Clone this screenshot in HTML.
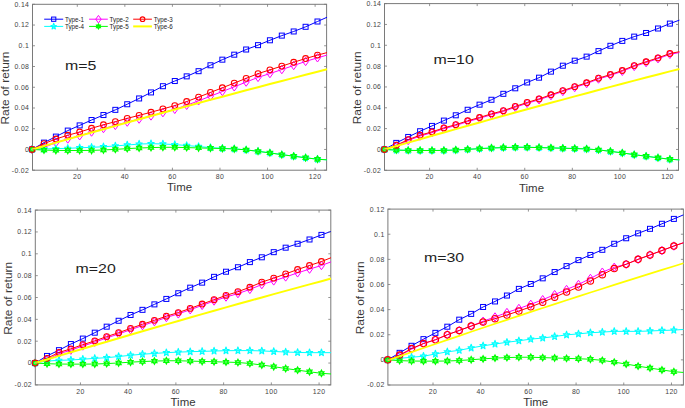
<!DOCTYPE html>
<html><head><meta charset="utf-8"><style>
html,body{margin:0;padding:0;background:#fff;}
svg{display:block;}
text{font-family:"Liberation Sans", sans-serif;}
.tl{font-size:6.9px;fill:#444;letter-spacing:0.35px;}
.xl{font-size:11px;fill:#363636;}
.yl{font-size:10.5px;fill:#383838;}
.mt{font-size:13.6px;fill:#1e1e1e;}
.lg{font-size:6.9px;fill:#222;}
</style></head><body>
<svg width="685" height="408" viewBox="0 0 685 408">
<rect width="685" height="408" fill="#fff"/>
<g>
<rect x="32.5" y="4.3" width="294.1" height="165.9" fill="none" stroke="#7a7a7a" stroke-width="1"/>
<polyline points="32.1,149.46 43.99,142.62 55.88,136.61 67.77,130.59 79.66,125.41 91.56,120.02 103.45,115.04 115.34,109.85 127.23,104.25 139.12,98.45 151.01,92.43 162.9,86.21 174.79,81.03 186.68,76.36 198.58,71.18 210.47,65.27 222.36,59.67 234.25,54.69 246.14,49.51 258.03,45.15 269.92,40.28 281.81,35.61 293.7,31.47 305.6,26.8 317.49,21.51 327,17.26" fill="none" stroke="#0000ff" stroke-width="1.0" stroke-linejoin="round"/>
<rect x="29.6" y="146.96" width="5" height="5" fill="none" stroke="#0000ff" stroke-width="1"/>
<rect x="41.49" y="140.12" width="5" height="5" fill="none" stroke="#0000ff" stroke-width="1"/>
<rect x="53.38" y="134.11" width="5" height="5" fill="none" stroke="#0000ff" stroke-width="1"/>
<rect x="65.27" y="128.09" width="5" height="5" fill="none" stroke="#0000ff" stroke-width="1"/>
<rect x="77.16" y="122.91" width="5" height="5" fill="none" stroke="#0000ff" stroke-width="1"/>
<rect x="89.06" y="117.52" width="5" height="5" fill="none" stroke="#0000ff" stroke-width="1"/>
<rect x="100.95" y="112.54" width="5" height="5" fill="none" stroke="#0000ff" stroke-width="1"/>
<rect x="112.84" y="107.35" width="5" height="5" fill="none" stroke="#0000ff" stroke-width="1"/>
<rect x="124.73" y="101.75" width="5" height="5" fill="none" stroke="#0000ff" stroke-width="1"/>
<rect x="136.62" y="95.95" width="5" height="5" fill="none" stroke="#0000ff" stroke-width="1"/>
<rect x="148.51" y="89.93" width="5" height="5" fill="none" stroke="#0000ff" stroke-width="1"/>
<rect x="160.4" y="83.71" width="5" height="5" fill="none" stroke="#0000ff" stroke-width="1"/>
<rect x="172.29" y="78.53" width="5" height="5" fill="none" stroke="#0000ff" stroke-width="1"/>
<rect x="184.18" y="73.86" width="5" height="5" fill="none" stroke="#0000ff" stroke-width="1"/>
<rect x="196.08" y="68.68" width="5" height="5" fill="none" stroke="#0000ff" stroke-width="1"/>
<rect x="207.97" y="62.77" width="5" height="5" fill="none" stroke="#0000ff" stroke-width="1"/>
<rect x="219.86" y="57.17" width="5" height="5" fill="none" stroke="#0000ff" stroke-width="1"/>
<rect x="231.75" y="52.19" width="5" height="5" fill="none" stroke="#0000ff" stroke-width="1"/>
<rect x="243.64" y="47.01" width="5" height="5" fill="none" stroke="#0000ff" stroke-width="1"/>
<rect x="255.53" y="42.65" width="5" height="5" fill="none" stroke="#0000ff" stroke-width="1"/>
<rect x="267.42" y="37.78" width="5" height="5" fill="none" stroke="#0000ff" stroke-width="1"/>
<rect x="279.31" y="33.11" width="5" height="5" fill="none" stroke="#0000ff" stroke-width="1"/>
<rect x="291.2" y="28.97" width="5" height="5" fill="none" stroke="#0000ff" stroke-width="1"/>
<rect x="303.1" y="24.3" width="5" height="5" fill="none" stroke="#0000ff" stroke-width="1"/>
<rect x="314.99" y="19.01" width="5" height="5" fill="none" stroke="#0000ff" stroke-width="1"/>
<polyline points="32.1,149.46 43.99,147.39 55.88,142.72 67.77,138.99 79.66,135.78 91.56,132.04 103.45,128.52 115.34,125.41 127.23,122.09 139.12,119.08 151.01,115.97 162.9,112.65 174.79,109.34 186.68,105.29 198.58,100.83 210.47,96.17 222.36,91.5 234.25,86.84 246.14,82.07 258.03,77.4 269.92,73.56 281.81,69.57 293.7,65.48 305.6,61.48 317.49,57.8 327,55.11" fill="none" stroke="#ff00ff" stroke-width="1.0" stroke-linejoin="round"/>
<path d="M32.1 145.26L35.1 149.46L32.1 153.66L29.1 149.46Z" fill="none" stroke="#ff00ff" stroke-width="1"/>
<path d="M43.99 143.19L46.99 147.39L43.99 151.59L40.99 147.39Z" fill="none" stroke="#ff00ff" stroke-width="1"/>
<path d="M55.88 138.52L58.88 142.72L55.88 146.92L52.88 142.72Z" fill="none" stroke="#ff00ff" stroke-width="1"/>
<path d="M67.77 134.79L70.77 138.99L67.77 143.19L64.77 138.99Z" fill="none" stroke="#ff00ff" stroke-width="1"/>
<path d="M79.66 131.58L82.66 135.78L79.66 139.98L76.66 135.78Z" fill="none" stroke="#ff00ff" stroke-width="1"/>
<path d="M91.56 127.84L94.56 132.04L91.56 136.24L88.56 132.04Z" fill="none" stroke="#ff00ff" stroke-width="1"/>
<path d="M103.45 124.32L106.45 128.52L103.45 132.72L100.45 128.52Z" fill="none" stroke="#ff00ff" stroke-width="1"/>
<path d="M115.34 121.21L118.34 125.41L115.34 129.61L112.34 125.41Z" fill="none" stroke="#ff00ff" stroke-width="1"/>
<path d="M127.23 117.89L130.23 122.09L127.23 126.29L124.23 122.09Z" fill="none" stroke="#ff00ff" stroke-width="1"/>
<path d="M139.12 114.88L142.12 119.08L139.12 123.28L136.12 119.08Z" fill="none" stroke="#ff00ff" stroke-width="1"/>
<path d="M151.01 111.77L154.01 115.97L151.01 120.17L148.01 115.97Z" fill="none" stroke="#ff00ff" stroke-width="1"/>
<path d="M162.9 108.45L165.9 112.65L162.9 116.85L159.9 112.65Z" fill="none" stroke="#ff00ff" stroke-width="1"/>
<path d="M174.79 105.14L177.79 109.34L174.79 113.54L171.79 109.34Z" fill="none" stroke="#ff00ff" stroke-width="1"/>
<path d="M186.68 101.09L189.68 105.29L186.68 109.49L183.68 105.29Z" fill="none" stroke="#ff00ff" stroke-width="1"/>
<path d="M198.58 96.63L201.58 100.83L198.58 105.03L195.58 100.83Z" fill="none" stroke="#ff00ff" stroke-width="1"/>
<path d="M210.47 91.97L213.47 96.17L210.47 100.37L207.47 96.17Z" fill="none" stroke="#ff00ff" stroke-width="1"/>
<path d="M222.36 87.3L225.36 91.5L222.36 95.7L219.36 91.5Z" fill="none" stroke="#ff00ff" stroke-width="1"/>
<path d="M234.25 82.64L237.25 86.84L234.25 91.04L231.25 86.84Z" fill="none" stroke="#ff00ff" stroke-width="1"/>
<path d="M246.14 77.87L249.14 82.07L246.14 86.27L243.14 82.07Z" fill="none" stroke="#ff00ff" stroke-width="1"/>
<path d="M258.03 73.2L261.03 77.4L258.03 81.6L255.03 77.4Z" fill="none" stroke="#ff00ff" stroke-width="1"/>
<path d="M269.92 69.36L272.92 73.56L269.92 77.76L266.92 73.56Z" fill="none" stroke="#ff00ff" stroke-width="1"/>
<path d="M281.81 65.37L284.81 69.57L281.81 73.77L278.81 69.57Z" fill="none" stroke="#ff00ff" stroke-width="1"/>
<path d="M293.7 61.28L296.7 65.48L293.7 69.68L290.7 65.48Z" fill="none" stroke="#ff00ff" stroke-width="1"/>
<path d="M305.6 57.28L308.6 61.48L305.6 65.68L302.6 61.48Z" fill="none" stroke="#ff00ff" stroke-width="1"/>
<path d="M317.49 53.6L320.49 57.8L317.49 62L314.49 57.8Z" fill="none" stroke="#ff00ff" stroke-width="1"/>
<polyline points="32.1,149.46 43.99,148.94 55.88,148.63 67.77,148.32 79.66,147.8 91.56,147.29 103.45,146.77 115.34,145.94 127.23,145 139.12,144.07 151.01,143.66 162.9,143.97 174.79,144.59 186.68,145.52 198.58,146.56 210.47,147.6 222.36,148.32 234.25,148.84 246.14,149.88 258.03,151.33 269.92,152.88 281.81,154.65 293.7,156.2 305.6,157.76 317.49,159.21 327,159.83" fill="none" stroke="#00ffff" stroke-width="1.0" stroke-linejoin="round"/>
<polygon points="32.1,145.76 32.95,148.17 35.27,148.32 33.47,149.96 34.06,152.46 32.1,151.06 30.14,152.46 30.73,149.96 28.93,148.32 31.25,148.17" fill="#00ffff" fill-opacity="0.45" stroke="#00ffff" stroke-width="1.1" stroke-linejoin="round"/>
<polygon points="43.99,145.24 44.84,147.65 47.16,147.8 45.36,149.44 45.95,151.94 43.99,150.54 42.03,151.94 42.62,149.44 40.82,147.8 43.14,147.65" fill="#00ffff" fill-opacity="0.45" stroke="#00ffff" stroke-width="1.1" stroke-linejoin="round"/>
<polygon points="55.88,144.93 56.73,147.34 59.05,147.49 57.25,149.13 57.84,151.63 55.88,150.23 53.92,151.63 54.51,149.13 52.72,147.49 55.04,147.34" fill="#00ffff" fill-opacity="0.45" stroke="#00ffff" stroke-width="1.1" stroke-linejoin="round"/>
<polygon points="67.77,144.62 68.62,147.03 70.94,147.18 69.14,148.82 69.73,151.32 67.77,149.92 65.82,151.32 66.4,148.82 64.61,147.18 66.93,147.03" fill="#00ffff" fill-opacity="0.45" stroke="#00ffff" stroke-width="1.1" stroke-linejoin="round"/>
<polygon points="79.66,144.1 80.51,146.51 82.83,146.66 81.03,148.3 81.62,150.8 79.66,149.4 77.71,150.8 78.29,148.3 76.5,146.66 78.82,146.51" fill="#00ffff" fill-opacity="0.45" stroke="#00ffff" stroke-width="1.1" stroke-linejoin="round"/>
<polygon points="91.56,143.59 92.4,145.99 94.72,146.14 92.93,147.78 93.51,150.28 91.56,148.89 89.6,150.28 90.19,147.78 88.39,146.14 90.71,145.99" fill="#00ffff" fill-opacity="0.45" stroke="#00ffff" stroke-width="1.1" stroke-linejoin="round"/>
<polygon points="103.45,143.07 104.29,145.47 106.61,145.62 104.82,147.26 105.4,149.76 103.45,148.37 101.49,149.76 102.08,147.26 100.28,145.62 102.6,145.47" fill="#00ffff" fill-opacity="0.45" stroke="#00ffff" stroke-width="1.1" stroke-linejoin="round"/>
<polygon points="115.34,142.24 116.18,144.64 118.5,144.79 116.71,146.43 117.3,148.93 115.34,147.54 113.38,148.93 113.97,146.43 112.17,144.79 114.49,144.64" fill="#00ffff" fill-opacity="0.45" stroke="#00ffff" stroke-width="1.1" stroke-linejoin="round"/>
<polygon points="127.23,141.3 128.08,143.71 130.4,143.86 128.6,145.5 129.19,148 127.23,146.6 125.27,148 125.86,145.5 124.06,143.86 126.38,143.71" fill="#00ffff" fill-opacity="0.45" stroke="#00ffff" stroke-width="1.1" stroke-linejoin="round"/>
<polygon points="139.12,140.37 139.97,142.78 142.29,142.93 140.49,144.57 141.08,147.06 139.12,145.67 137.16,147.06 137.75,144.57 135.95,142.93 138.27,142.78" fill="#00ffff" fill-opacity="0.45" stroke="#00ffff" stroke-width="1.1" stroke-linejoin="round"/>
<polygon points="151.01,139.96 151.86,142.36 154.18,142.51 152.38,144.15 152.97,146.65 151.01,145.26 149.05,146.65 149.64,144.15 147.84,142.51 150.16,142.36" fill="#00ffff" fill-opacity="0.45" stroke="#00ffff" stroke-width="1.1" stroke-linejoin="round"/>
<polygon points="162.9,140.27 163.75,142.67 166.07,142.82 164.27,144.46 164.86,146.96 162.9,145.57 160.95,146.96 161.53,144.46 159.74,142.82 162.06,142.67" fill="#00ffff" fill-opacity="0.45" stroke="#00ffff" stroke-width="1.1" stroke-linejoin="round"/>
<polygon points="174.79,140.89 175.64,143.29 177.96,143.45 176.16,145.08 176.75,147.58 174.79,146.19 172.84,147.58 173.42,145.08 171.63,143.45 173.95,143.29" fill="#00ffff" fill-opacity="0.45" stroke="#00ffff" stroke-width="1.1" stroke-linejoin="round"/>
<polygon points="186.68,141.82 187.53,144.23 189.85,144.38 188.05,146.02 188.64,148.52 186.68,147.12 184.73,148.52 185.32,146.02 183.52,144.38 185.84,144.23" fill="#00ffff" fill-opacity="0.45" stroke="#00ffff" stroke-width="1.1" stroke-linejoin="round"/>
<polygon points="198.58,142.86 199.42,145.26 201.74,145.42 199.95,147.05 200.53,149.55 198.58,148.16 196.62,149.55 197.21,147.05 195.41,145.42 197.73,145.26" fill="#00ffff" fill-opacity="0.45" stroke="#00ffff" stroke-width="1.1" stroke-linejoin="round"/>
<polygon points="210.47,143.9 211.31,146.3 213.63,146.45 211.84,148.09 212.42,150.59 210.47,149.2 208.51,150.59 209.1,148.09 207.3,146.45 209.62,146.3" fill="#00ffff" fill-opacity="0.45" stroke="#00ffff" stroke-width="1.1" stroke-linejoin="round"/>
<polygon points="222.36,144.62 223.2,147.03 225.53,147.18 223.73,148.82 224.32,151.32 222.36,149.92 220.4,151.32 220.99,148.82 219.19,147.18 221.51,147.03" fill="#00ffff" fill-opacity="0.45" stroke="#00ffff" stroke-width="1.1" stroke-linejoin="round"/>
<polygon points="234.25,145.14 235.1,147.55 237.42,147.7 235.62,149.33 236.21,151.83 234.25,150.44 232.29,151.83 232.88,149.33 231.08,147.7 233.4,147.55" fill="#00ffff" fill-opacity="0.45" stroke="#00ffff" stroke-width="1.1" stroke-linejoin="round"/>
<polygon points="246.14,146.18 246.99,148.58 249.31,148.73 247.51,150.37 248.1,152.87 246.14,151.48 244.18,152.87 244.77,150.37 242.97,148.73 245.29,148.58" fill="#00ffff" fill-opacity="0.45" stroke="#00ffff" stroke-width="1.1" stroke-linejoin="round"/>
<polygon points="258.03,147.63 258.88,150.03 261.2,150.19 259.4,151.82 259.99,154.32 258.03,152.93 256.07,154.32 256.66,151.82 254.86,150.19 257.19,150.03" fill="#00ffff" fill-opacity="0.45" stroke="#00ffff" stroke-width="1.1" stroke-linejoin="round"/>
<polygon points="269.92,149.18 270.77,151.59 273.09,151.74 271.29,153.38 271.88,155.88 269.92,154.48 267.97,155.88 268.55,153.38 266.76,151.74 269.08,151.59" fill="#00ffff" fill-opacity="0.45" stroke="#00ffff" stroke-width="1.1" stroke-linejoin="round"/>
<polygon points="281.81,150.95 282.66,153.35 284.98,153.5 283.18,155.14 283.77,157.64 281.81,156.25 279.86,157.64 280.44,155.14 278.65,153.5 280.97,153.35" fill="#00ffff" fill-opacity="0.45" stroke="#00ffff" stroke-width="1.1" stroke-linejoin="round"/>
<polygon points="293.7,152.5 294.55,154.91 296.87,155.06 295.07,156.7 295.66,159.2 293.7,157.8 291.75,159.2 292.34,156.7 290.54,155.06 292.86,154.91" fill="#00ffff" fill-opacity="0.45" stroke="#00ffff" stroke-width="1.1" stroke-linejoin="round"/>
<polygon points="305.6,154.06 306.44,156.46 308.76,156.61 306.97,158.25 307.55,160.75 305.6,159.36 303.64,160.75 304.23,158.25 302.43,156.61 304.75,156.46" fill="#00ffff" fill-opacity="0.45" stroke="#00ffff" stroke-width="1.1" stroke-linejoin="round"/>
<polygon points="317.49,155.51 318.33,157.91 320.65,158.07 318.86,159.7 319.44,162.2 317.49,160.81 315.53,162.2 316.12,159.7 314.32,158.07 316.64,157.91" fill="#00ffff" fill-opacity="0.45" stroke="#00ffff" stroke-width="1.1" stroke-linejoin="round"/>
<polyline points="32.1,149.46 43.99,150.08 55.88,150.4 67.77,150.5 79.66,150.5 91.56,150.4 103.45,149.98 115.34,149.36 127.23,148.63 139.12,148.01 151.01,147.6 162.9,147.29 174.79,147.29 186.68,147.6 198.58,147.91 210.47,148.22 222.36,148.53 234.25,148.94 246.14,149.88 258.03,151.33 269.92,152.88 281.81,154.65 293.7,156.2 305.6,157.76 317.49,159.21 327,159.83" fill="none" stroke="#00ff00" stroke-width="1.0" stroke-linejoin="round"/>
<polygon points="32.1,146.36 32.93,147.9 34.57,147.91 33.76,149.46 34.57,151.01 32.93,151.02 32.1,152.56 31.27,151.02 29.63,151.01 30.44,149.46 29.63,147.91 31.27,147.9" fill="#00ff00" fill-opacity="0.35" stroke="#00ff00" stroke-width="1.3"/>
<polygon points="43.99,146.98 44.82,148.53 46.46,148.53 45.65,150.08 46.46,151.63 44.82,151.64 43.99,153.18 43.16,151.64 41.52,151.63 42.34,150.08 41.52,148.53 43.16,148.53" fill="#00ff00" fill-opacity="0.35" stroke="#00ff00" stroke-width="1.3"/>
<polygon points="55.88,147.3 56.71,148.84 58.35,148.85 57.54,150.4 58.35,151.95 56.71,151.95 55.88,153.5 55.05,151.95 53.41,151.95 54.23,150.4 53.41,148.85 55.05,148.84" fill="#00ff00" fill-opacity="0.35" stroke="#00ff00" stroke-width="1.3"/>
<polygon points="67.77,147.4 68.6,148.94 70.24,148.95 69.43,150.5 70.24,152.05 68.6,152.06 67.77,153.6 66.95,152.06 65.3,152.05 66.12,150.5 65.3,148.95 66.95,148.94" fill="#00ff00" fill-opacity="0.35" stroke="#00ff00" stroke-width="1.3"/>
<polygon points="79.66,147.4 80.49,148.94 82.13,148.95 81.32,150.5 82.13,152.05 80.49,152.06 79.66,153.6 78.84,152.06 77.19,152.05 78.01,150.5 77.19,148.95 78.84,148.94" fill="#00ff00" fill-opacity="0.35" stroke="#00ff00" stroke-width="1.3"/>
<polygon points="91.56,147.3 92.38,148.84 94.03,148.85 93.21,150.4 94.03,151.95 92.38,151.95 91.56,153.5 90.73,151.95 89.09,151.95 89.9,150.4 89.09,148.85 90.73,148.84" fill="#00ff00" fill-opacity="0.35" stroke="#00ff00" stroke-width="1.3"/>
<polygon points="103.45,146.88 104.27,148.42 105.92,148.43 105.1,149.98 105.92,151.53 104.27,151.54 103.45,153.08 102.62,151.54 100.98,151.53 101.79,149.98 100.98,148.43 102.62,148.42" fill="#00ff00" fill-opacity="0.35" stroke="#00ff00" stroke-width="1.3"/>
<polygon points="115.34,146.26 116.17,147.8 117.81,147.81 116.99,149.36 117.81,150.91 116.17,150.92 115.34,152.46 114.51,150.92 112.87,150.91 113.68,149.36 112.87,147.81 114.51,147.8" fill="#00ff00" fill-opacity="0.35" stroke="#00ff00" stroke-width="1.3"/>
<polygon points="127.23,145.53 128.06,147.07 129.7,147.08 128.89,148.63 129.7,150.18 128.06,150.19 127.23,151.73 126.4,150.19 124.76,150.18 125.57,148.63 124.76,147.08 126.4,147.07" fill="#00ff00" fill-opacity="0.35" stroke="#00ff00" stroke-width="1.3"/>
<polygon points="139.12,144.91 139.95,146.45 141.59,146.46 140.78,148.01 141.59,149.56 139.95,149.57 139.12,151.11 138.29,149.57 136.65,149.56 137.46,148.01 136.65,146.46 138.29,146.45" fill="#00ff00" fill-opacity="0.35" stroke="#00ff00" stroke-width="1.3"/>
<polygon points="151.01,144.5 151.84,146.04 153.48,146.05 152.67,147.6 153.48,149.15 151.84,149.15 151.01,150.7 150.18,149.15 148.54,149.15 149.36,147.6 148.54,146.05 150.18,146.04" fill="#00ff00" fill-opacity="0.35" stroke="#00ff00" stroke-width="1.3"/>
<polygon points="162.9,144.19 163.73,145.73 165.37,145.74 164.56,147.29 165.37,148.84 163.73,148.84 162.9,150.39 162.07,148.84 160.43,148.84 161.25,147.29 160.43,145.74 162.07,145.73" fill="#00ff00" fill-opacity="0.35" stroke="#00ff00" stroke-width="1.3"/>
<polygon points="174.79,144.19 175.62,145.73 177.26,145.74 176.45,147.29 177.26,148.84 175.62,148.84 174.79,150.39 173.97,148.84 172.32,148.84 173.14,147.29 172.32,145.74 173.97,145.73" fill="#00ff00" fill-opacity="0.35" stroke="#00ff00" stroke-width="1.3"/>
<polygon points="186.68,144.5 187.51,146.04 189.15,146.05 188.34,147.6 189.15,149.15 187.51,149.15 186.68,150.7 185.86,149.15 184.21,149.15 185.03,147.6 184.21,146.05 185.86,146.04" fill="#00ff00" fill-opacity="0.35" stroke="#00ff00" stroke-width="1.3"/>
<polygon points="198.58,144.81 199.4,146.35 201.05,146.36 200.23,147.91 201.05,149.46 199.4,149.47 198.58,151.01 197.75,149.47 196.11,149.46 196.92,147.91 196.11,146.36 197.75,146.35" fill="#00ff00" fill-opacity="0.35" stroke="#00ff00" stroke-width="1.3"/>
<polygon points="210.47,145.12 211.29,146.66 212.94,146.67 212.12,148.22 212.94,149.77 211.29,149.78 210.47,151.32 209.64,149.78 208,149.77 208.81,148.22 208,146.67 209.64,146.66" fill="#00ff00" fill-opacity="0.35" stroke="#00ff00" stroke-width="1.3"/>
<polygon points="222.36,145.43 223.19,146.97 224.83,146.98 224.01,148.53 224.83,150.08 223.19,150.09 222.36,151.63 221.53,150.09 219.89,150.08 220.7,148.53 219.89,146.98 221.53,146.97" fill="#00ff00" fill-opacity="0.35" stroke="#00ff00" stroke-width="1.3"/>
<polygon points="234.25,145.84 235.08,147.39 236.72,147.39 235.91,148.94 236.72,150.49 235.08,150.5 234.25,152.04 233.42,150.5 231.78,150.49 232.59,148.94 231.78,147.39 233.42,147.39" fill="#00ff00" fill-opacity="0.35" stroke="#00ff00" stroke-width="1.3"/>
<polygon points="246.14,146.78 246.97,148.32 248.61,148.33 247.8,149.88 248.61,151.43 246.97,151.44 246.14,152.98 245.31,151.44 243.67,151.43 244.48,149.88 243.67,148.33 245.31,148.32" fill="#00ff00" fill-opacity="0.35" stroke="#00ff00" stroke-width="1.3"/>
<polygon points="258.03,148.23 258.86,149.77 260.5,149.78 259.69,151.33 260.5,152.88 258.86,152.89 258.03,154.43 257.2,152.89 255.56,152.88 256.38,151.33 255.56,149.78 257.2,149.77" fill="#00ff00" fill-opacity="0.35" stroke="#00ff00" stroke-width="1.3"/>
<polygon points="269.92,149.78 270.75,151.33 272.39,151.33 271.58,152.88 272.39,154.43 270.75,154.44 269.92,155.98 269.09,154.44 267.45,154.43 268.27,152.88 267.45,151.33 269.09,151.33" fill="#00ff00" fill-opacity="0.35" stroke="#00ff00" stroke-width="1.3"/>
<polygon points="281.81,151.55 282.64,153.09 284.28,153.1 283.47,154.65 284.28,156.2 282.64,156.21 281.81,157.75 280.99,156.21 279.34,156.2 280.16,154.65 279.34,153.1 280.99,153.09" fill="#00ff00" fill-opacity="0.35" stroke="#00ff00" stroke-width="1.3"/>
<polygon points="293.7,153.1 294.53,154.64 296.17,154.65 295.36,156.2 296.17,157.75 294.53,157.76 293.7,159.3 292.88,157.76 291.23,157.75 292.05,156.2 291.23,154.65 292.88,154.64" fill="#00ff00" fill-opacity="0.35" stroke="#00ff00" stroke-width="1.3"/>
<polygon points="305.6,154.66 306.42,156.2 308.07,156.21 307.25,157.76 308.07,159.31 306.42,159.32 305.6,160.86 304.77,159.32 303.13,159.31 303.94,157.76 303.13,156.21 304.77,156.2" fill="#00ff00" fill-opacity="0.35" stroke="#00ff00" stroke-width="1.3"/>
<polygon points="317.49,156.11 318.32,157.65 319.96,157.66 319.14,159.21 319.96,160.76 318.32,160.77 317.49,162.31 316.66,160.77 315.02,160.76 315.83,159.21 315.02,157.66 316.66,157.65" fill="#00ff00" fill-opacity="0.35" stroke="#00ff00" stroke-width="1.3"/>
<polyline points="32.1,149.46 43.99,143.66 55.88,138.99 67.77,135.26 79.66,132.04 91.56,128.31 103.45,124.78 115.34,121.67 127.23,118.36 139.12,115.35 151.01,112.24 162.9,108.92 174.79,105.6 186.68,101.56 198.58,97.1 210.47,92.43 222.36,87.77 234.25,83.1 246.14,78.33 258.03,73.67 269.92,69.83 281.81,66.1 293.7,62.26 305.6,58.53 317.49,55.11 327,52.62" fill="none" stroke="#ff0000" stroke-width="1.0" stroke-linejoin="round"/>
<circle cx="32.1" cy="149.46" r="2.9" fill="none" stroke="#ff0000" stroke-width="1.1"/>
<circle cx="43.99" cy="143.66" r="2.9" fill="none" stroke="#ff0000" stroke-width="1.1"/>
<circle cx="55.88" cy="138.99" r="2.9" fill="none" stroke="#ff0000" stroke-width="1.1"/>
<circle cx="67.77" cy="135.26" r="2.9" fill="none" stroke="#ff0000" stroke-width="1.1"/>
<circle cx="79.66" cy="132.04" r="2.9" fill="none" stroke="#ff0000" stroke-width="1.1"/>
<circle cx="91.56" cy="128.31" r="2.9" fill="none" stroke="#ff0000" stroke-width="1.1"/>
<circle cx="103.45" cy="124.78" r="2.9" fill="none" stroke="#ff0000" stroke-width="1.1"/>
<circle cx="115.34" cy="121.67" r="2.9" fill="none" stroke="#ff0000" stroke-width="1.1"/>
<circle cx="127.23" cy="118.36" r="2.9" fill="none" stroke="#ff0000" stroke-width="1.1"/>
<circle cx="139.12" cy="115.35" r="2.9" fill="none" stroke="#ff0000" stroke-width="1.1"/>
<circle cx="151.01" cy="112.24" r="2.9" fill="none" stroke="#ff0000" stroke-width="1.1"/>
<circle cx="162.9" cy="108.92" r="2.9" fill="none" stroke="#ff0000" stroke-width="1.1"/>
<circle cx="174.79" cy="105.6" r="2.9" fill="none" stroke="#ff0000" stroke-width="1.1"/>
<circle cx="186.68" cy="101.56" r="2.9" fill="none" stroke="#ff0000" stroke-width="1.1"/>
<circle cx="198.58" cy="97.1" r="2.9" fill="none" stroke="#ff0000" stroke-width="1.1"/>
<circle cx="210.47" cy="92.43" r="2.9" fill="none" stroke="#ff0000" stroke-width="1.1"/>
<circle cx="222.36" cy="87.77" r="2.9" fill="none" stroke="#ff0000" stroke-width="1.1"/>
<circle cx="234.25" cy="83.1" r="2.9" fill="none" stroke="#ff0000" stroke-width="1.1"/>
<circle cx="246.14" cy="78.33" r="2.9" fill="none" stroke="#ff0000" stroke-width="1.1"/>
<circle cx="258.03" cy="73.67" r="2.9" fill="none" stroke="#ff0000" stroke-width="1.1"/>
<circle cx="269.92" cy="69.83" r="2.9" fill="none" stroke="#ff0000" stroke-width="1.1"/>
<circle cx="281.81" cy="66.1" r="2.9" fill="none" stroke="#ff0000" stroke-width="1.1"/>
<circle cx="293.7" cy="62.26" r="2.9" fill="none" stroke="#ff0000" stroke-width="1.1"/>
<circle cx="305.6" cy="58.53" r="2.9" fill="none" stroke="#ff0000" stroke-width="1.1"/>
<circle cx="317.49" cy="55.11" r="2.9" fill="none" stroke="#ff0000" stroke-width="1.1"/>
<polyline points="32.1,149.46 43.99,146.05 55.88,142.64 67.77,139.26 79.66,135.89 91.56,132.53 103.45,129.2 115.34,125.87 127.23,122.56 139.12,119.27 151.01,115.99 162.9,112.73 174.79,109.49 186.68,106.26 198.58,103.04 210.47,99.84 222.36,96.66 234.25,93.49 246.14,90.34 258.03,87.2 269.92,84.08 281.81,80.97 293.7,77.88 305.6,74.8 317.49,71.74 327,69.31" fill="none" stroke="#ffff00" stroke-width="2.0" stroke-linejoin="round"/>
</g>
<path d="M77.29 170.2v-2.5M77.29 4.3v2.5M124.85 170.2v-2.5M124.85 4.3v2.5M172.42 170.2v-2.5M172.42 4.3v2.5M219.98 170.2v-2.5M219.98 4.3v2.5M267.54 170.2v-2.5M267.54 4.3v2.5M315.11 170.2v-2.5M315.11 4.3v2.5M32.5 170.2h2.5M326.6 170.2h-2.5M32.5 149.46h2.5M326.6 149.46h-2.5M32.5 128.72h2.5M326.6 128.72h-2.5M32.5 107.99h2.5M326.6 107.99h-2.5M32.5 87.25h2.5M326.6 87.25h-2.5M32.5 66.51h2.5M326.6 66.51h-2.5M32.5 45.78h2.5M326.6 45.78h-2.5M32.5 25.04h2.5M326.6 25.04h-2.5M32.5 4.3h2.5M326.6 4.3h-2.5" stroke="#7a7a7a" stroke-width="0.8" fill="none"/>
<text x="77.29" y="179.1" text-anchor="middle" class="tl">20</text>
<text x="124.85" y="179.1" text-anchor="middle" class="tl">40</text>
<text x="172.42" y="179.1" text-anchor="middle" class="tl">60</text>
<text x="219.98" y="179.1" text-anchor="middle" class="tl">80</text>
<text x="267.54" y="179.1" text-anchor="middle" class="tl">100</text>
<text x="315.11" y="179.1" text-anchor="middle" class="tl">120</text>
<text x="28.9" y="172.6" text-anchor="end" class="tl" dx="0.35">-0.02</text>
<text x="28.9" y="151.86" text-anchor="end" class="tl" dx="0.35">0</text>
<text x="28.9" y="131.12" text-anchor="end" class="tl" dx="0.35">0.02</text>
<text x="28.9" y="110.39" text-anchor="end" class="tl" dx="0.35">0.04</text>
<text x="28.9" y="89.65" text-anchor="end" class="tl" dx="0.35">0.06</text>
<text x="28.9" y="68.91" text-anchor="end" class="tl" dx="0.35">0.08</text>
<text x="28.9" y="48.18" text-anchor="end" class="tl" dx="0.35">0.1</text>
<text x="28.9" y="27.44" text-anchor="end" class="tl" dx="0.35">0.12</text>
<text x="28.9" y="6.7" text-anchor="end" class="tl" dx="0.35">0.14</text>
<text x="179.55" y="191.4" text-anchor="middle" class="xl" textLength="25" lengthAdjust="spacingAndGlyphs">Time</text>
<text transform="translate(8.9,88.05) rotate(-90)" x="0" y="0" text-anchor="middle" class="yl" textLength="73" lengthAdjust="spacingAndGlyphs">Rate of return</text>
<text x="65" y="70" class="mt" textLength="31.4" lengthAdjust="spacingAndGlyphs">m=5</text>
<path d="M44.2 19.2H63.2" stroke="#0000ff" stroke-width="1.0"/>
<rect x="51.58" y="17.07" width="4.25" height="4.25" fill="none" stroke="#0000ff" stroke-width="1"/>
<text x="65" y="21.5" class="lg" textLength="19" lengthAdjust="spacingAndGlyphs">Type-1</text>
<path d="M89.1 19.2H107.8" stroke="#ff00ff" stroke-width="1.0"/>
<path d="M98.45 15.42L101.15 19.2L98.45 22.98L95.75 19.2Z" fill="none" stroke="#ff00ff" stroke-width="1"/>
<text x="109.6" y="21.5" class="lg" textLength="19" lengthAdjust="spacingAndGlyphs">Type-2</text>
<path d="M133.2 19.2H151.9" stroke="#ff0000" stroke-width="1.0"/>
<circle cx="142.55" cy="19.2" r="2.32" fill="none" stroke="#ff0000" stroke-width="1.1"/>
<text x="153.7" y="21.5" class="lg" textLength="19" lengthAdjust="spacingAndGlyphs">Type-3</text>
<path d="M44.2 26.4H63.2" stroke="#00ffff" stroke-width="1.0"/>
<polygon points="53.7,23.25 54.42,25.3 56.39,25.43 54.86,26.82 55.36,28.94 53.7,27.76 52.04,28.94 52.54,26.82 51.01,25.43 52.98,25.3" fill="#00ffff" fill-opacity="0.45" stroke="#00ffff" stroke-width="1.1" stroke-linejoin="round"/>
<text x="65" y="28.7" class="lg" textLength="19" lengthAdjust="spacingAndGlyphs">Type-4</text>
<path d="M89.1 26.4H107.8" stroke="#00ff00" stroke-width="1.0"/>
<polygon points="98.45,24.07 99.07,25.23 100.3,25.24 99.69,26.4 100.3,27.56 99.07,27.57 98.45,28.72 97.83,27.57 96.6,27.56 97.21,26.4 96.6,25.24 97.83,25.23" fill="#00ff00" fill-opacity="0.35" stroke="#00ff00" stroke-width="1.3"/>
<text x="109.6" y="28.7" class="lg" textLength="19" lengthAdjust="spacingAndGlyphs">Type-5</text>
<path d="M133.2 26.4H151.9" stroke="#ffff00" stroke-width="2.0"/>
<text x="153.7" y="28.7" class="lg" textLength="19" lengthAdjust="spacingAndGlyphs">Type-6</text>
<g>
<rect x="384.5" y="3.6" width="294" height="166.7" fill="none" stroke="#7a7a7a" stroke-width="1"/>
<polyline points="384.4,149.46 396.3,142.9 408.19,136.96 420.09,131.23 431.98,125.92 443.88,120.6 455.77,115.29 467.67,109.77 479.56,104.66 491.46,99.77 503.35,93.83 515.25,88.3 527.14,82.47 539.04,77.68 550.93,71.63 562.83,65.7 574.72,60.69 586.62,56.63 598.51,51.11 610.41,45.8 622.3,40.9 634.2,36.63 646.09,32.98 657.99,28.5 669.88,23.6 679.4,20.17" fill="none" stroke="#0000ff" stroke-width="1.0" stroke-linejoin="round"/>
<rect x="381.9" y="146.96" width="5" height="5" fill="none" stroke="#0000ff" stroke-width="1"/>
<rect x="393.8" y="140.4" width="5" height="5" fill="none" stroke="#0000ff" stroke-width="1"/>
<rect x="405.69" y="134.46" width="5" height="5" fill="none" stroke="#0000ff" stroke-width="1"/>
<rect x="417.59" y="128.73" width="5" height="5" fill="none" stroke="#0000ff" stroke-width="1"/>
<rect x="429.48" y="123.42" width="5" height="5" fill="none" stroke="#0000ff" stroke-width="1"/>
<rect x="441.38" y="118.1" width="5" height="5" fill="none" stroke="#0000ff" stroke-width="1"/>
<rect x="453.27" y="112.79" width="5" height="5" fill="none" stroke="#0000ff" stroke-width="1"/>
<rect x="465.17" y="107.27" width="5" height="5" fill="none" stroke="#0000ff" stroke-width="1"/>
<rect x="477.06" y="102.16" width="5" height="5" fill="none" stroke="#0000ff" stroke-width="1"/>
<rect x="488.96" y="97.27" width="5" height="5" fill="none" stroke="#0000ff" stroke-width="1"/>
<rect x="500.85" y="91.33" width="5" height="5" fill="none" stroke="#0000ff" stroke-width="1"/>
<rect x="512.75" y="85.8" width="5" height="5" fill="none" stroke="#0000ff" stroke-width="1"/>
<rect x="524.64" y="79.97" width="5" height="5" fill="none" stroke="#0000ff" stroke-width="1"/>
<rect x="536.54" y="75.18" width="5" height="5" fill="none" stroke="#0000ff" stroke-width="1"/>
<rect x="548.43" y="69.13" width="5" height="5" fill="none" stroke="#0000ff" stroke-width="1"/>
<rect x="560.33" y="63.2" width="5" height="5" fill="none" stroke="#0000ff" stroke-width="1"/>
<rect x="572.22" y="58.19" width="5" height="5" fill="none" stroke="#0000ff" stroke-width="1"/>
<rect x="584.12" y="54.13" width="5" height="5" fill="none" stroke="#0000ff" stroke-width="1"/>
<rect x="596.01" y="48.61" width="5" height="5" fill="none" stroke="#0000ff" stroke-width="1"/>
<rect x="607.91" y="43.3" width="5" height="5" fill="none" stroke="#0000ff" stroke-width="1"/>
<rect x="619.8" y="38.4" width="5" height="5" fill="none" stroke="#0000ff" stroke-width="1"/>
<rect x="631.7" y="34.13" width="5" height="5" fill="none" stroke="#0000ff" stroke-width="1"/>
<rect x="643.59" y="30.48" width="5" height="5" fill="none" stroke="#0000ff" stroke-width="1"/>
<rect x="655.49" y="26" width="5" height="5" fill="none" stroke="#0000ff" stroke-width="1"/>
<rect x="667.38" y="21.1" width="5" height="5" fill="none" stroke="#0000ff" stroke-width="1"/>
<polyline points="384.4,149.46 396.3,146.02 408.19,140.5 420.09,136.02 431.98,132.69 443.88,128.73 455.77,125.5 467.67,121.64 479.56,118.31 491.46,114.66 503.35,111.54 515.25,107.27 527.14,103.31 539.04,99.77 550.93,95.6 562.83,91.43 574.72,87.47 586.62,83.62 598.51,79.03 610.41,75.39 622.3,71.32 634.2,66.43 646.09,62.57 657.99,58.72 669.88,54.34 679.4,52.57" fill="none" stroke="#ff00ff" stroke-width="1.0" stroke-linejoin="round"/>
<path d="M384.4 145.26L387.4 149.46L384.4 153.66L381.4 149.46Z" fill="none" stroke="#ff00ff" stroke-width="1"/>
<path d="M396.3 141.82L399.3 146.02L396.3 150.22L393.3 146.02Z" fill="none" stroke="#ff00ff" stroke-width="1"/>
<path d="M408.19 136.3L411.19 140.5L408.19 144.7L405.19 140.5Z" fill="none" stroke="#ff00ff" stroke-width="1"/>
<path d="M420.09 131.82L423.09 136.02L420.09 140.22L417.09 136.02Z" fill="none" stroke="#ff00ff" stroke-width="1"/>
<path d="M431.98 128.49L434.98 132.69L431.98 136.89L428.98 132.69Z" fill="none" stroke="#ff00ff" stroke-width="1"/>
<path d="M443.88 124.53L446.88 128.73L443.88 132.93L440.88 128.73Z" fill="none" stroke="#ff00ff" stroke-width="1"/>
<path d="M455.77 121.3L458.77 125.5L455.77 129.7L452.77 125.5Z" fill="none" stroke="#ff00ff" stroke-width="1"/>
<path d="M467.67 117.44L470.67 121.64L467.67 125.84L464.67 121.64Z" fill="none" stroke="#ff00ff" stroke-width="1"/>
<path d="M479.56 114.11L482.56 118.31L479.56 122.51L476.56 118.31Z" fill="none" stroke="#ff00ff" stroke-width="1"/>
<path d="M491.46 110.46L494.46 114.66L491.46 118.86L488.46 114.66Z" fill="none" stroke="#ff00ff" stroke-width="1"/>
<path d="M503.35 107.34L506.35 111.54L503.35 115.74L500.35 111.54Z" fill="none" stroke="#ff00ff" stroke-width="1"/>
<path d="M515.25 103.07L518.25 107.27L515.25 111.47L512.25 107.27Z" fill="none" stroke="#ff00ff" stroke-width="1"/>
<path d="M527.14 99.11L530.14 103.31L527.14 107.51L524.14 103.31Z" fill="none" stroke="#ff00ff" stroke-width="1"/>
<path d="M539.04 95.57L542.04 99.77L539.04 103.97L536.04 99.77Z" fill="none" stroke="#ff00ff" stroke-width="1"/>
<path d="M550.93 91.4L553.93 95.6L550.93 99.8L547.93 95.6Z" fill="none" stroke="#ff00ff" stroke-width="1"/>
<path d="M562.83 87.23L565.83 91.43L562.83 95.63L559.83 91.43Z" fill="none" stroke="#ff00ff" stroke-width="1"/>
<path d="M574.72 83.27L577.72 87.47L574.72 91.67L571.72 87.47Z" fill="none" stroke="#ff00ff" stroke-width="1"/>
<path d="M586.62 79.42L589.62 83.62L586.62 87.82L583.62 83.62Z" fill="none" stroke="#ff00ff" stroke-width="1"/>
<path d="M598.51 74.83L601.51 79.03L598.51 83.23L595.51 79.03Z" fill="none" stroke="#ff00ff" stroke-width="1"/>
<path d="M610.41 71.19L613.41 75.39L610.41 79.59L607.41 75.39Z" fill="none" stroke="#ff00ff" stroke-width="1"/>
<path d="M622.3 67.12L625.3 71.32L622.3 75.52L619.3 71.32Z" fill="none" stroke="#ff00ff" stroke-width="1"/>
<path d="M634.2 62.23L637.2 66.43L634.2 70.63L631.2 66.43Z" fill="none" stroke="#ff00ff" stroke-width="1"/>
<path d="M646.09 58.37L649.09 62.57L646.09 66.77L643.09 62.57Z" fill="none" stroke="#ff00ff" stroke-width="1"/>
<path d="M657.99 54.52L660.99 58.72L657.99 62.92L654.99 58.72Z" fill="none" stroke="#ff00ff" stroke-width="1"/>
<path d="M669.88 50.14L672.88 54.34L669.88 58.54L666.88 54.34Z" fill="none" stroke="#ff00ff" stroke-width="1"/>
<polyline points="384.4,149.46 396.3,150.09 408.19,150.4 420.09,150.5 431.98,150.5 443.88,150.4 455.77,149.98 467.67,149.36 479.56,148.63 491.46,148 503.35,147.59 515.25,147.27 527.14,147.27 539.04,147.59 550.93,147.9 562.83,148.21 574.72,148.52 586.62,148.94 598.51,149.88 610.41,151.34 622.3,152.9 634.2,154.67 646.09,156.23 657.99,157.8 669.88,159.26 679.4,159.88" fill="none" stroke="#00ffff" stroke-width="1.0" stroke-linejoin="round"/>
<polygon points="384.4,145.76 385.25,148.17 387.57,148.32 385.77,149.96 386.36,152.46 384.4,151.06 382.44,152.46 383.03,149.96 381.23,148.32 383.55,148.17" fill="#00ffff" fill-opacity="0.45" stroke="#00ffff" stroke-width="1.1" stroke-linejoin="round"/>
<polygon points="396.3,146.39 397.14,148.79 399.46,148.94 397.66,150.58 398.25,153.08 396.3,151.69 394.34,153.08 394.93,150.58 393.13,148.94 395.45,148.79" fill="#00ffff" fill-opacity="0.45" stroke="#00ffff" stroke-width="1.1" stroke-linejoin="round"/>
<polygon points="408.19,146.7 409.04,149.11 411.36,149.26 409.56,150.89 410.15,153.39 408.19,152 406.23,153.39 406.82,150.89 405.02,149.26 407.34,149.11" fill="#00ffff" fill-opacity="0.45" stroke="#00ffff" stroke-width="1.1" stroke-linejoin="round"/>
<polygon points="420.09,146.8 420.93,149.21 423.25,149.36 421.46,151 422.04,153.5 420.09,152.1 418.13,153.5 418.72,151 416.92,149.36 419.24,149.21" fill="#00ffff" fill-opacity="0.45" stroke="#00ffff" stroke-width="1.1" stroke-linejoin="round"/>
<polygon points="431.98,146.8 432.83,149.21 435.15,149.36 433.35,151 433.94,153.5 431.98,152.1 430.02,153.5 430.61,151 428.81,149.36 431.13,149.21" fill="#00ffff" fill-opacity="0.45" stroke="#00ffff" stroke-width="1.1" stroke-linejoin="round"/>
<polygon points="443.88,146.7 444.72,149.11 447.04,149.26 445.25,150.89 445.83,153.39 443.88,152 441.92,153.39 442.51,150.89 440.71,149.26 443.03,149.11" fill="#00ffff" fill-opacity="0.45" stroke="#00ffff" stroke-width="1.1" stroke-linejoin="round"/>
<polygon points="455.77,146.28 456.62,148.69 458.94,148.84 457.14,150.48 457.73,152.98 455.77,151.58 453.81,152.98 454.4,150.48 452.6,148.84 454.92,148.69" fill="#00ffff" fill-opacity="0.45" stroke="#00ffff" stroke-width="1.1" stroke-linejoin="round"/>
<polygon points="467.67,145.66 468.51,148.06 470.83,148.21 469.04,149.85 469.62,152.35 467.67,150.96 465.71,152.35 466.3,149.85 464.5,148.21 466.82,148.06" fill="#00ffff" fill-opacity="0.45" stroke="#00ffff" stroke-width="1.1" stroke-linejoin="round"/>
<polygon points="479.56,144.93 480.41,147.33 482.73,147.49 480.93,149.12 481.52,151.62 479.56,150.23 477.6,151.62 478.19,149.12 476.39,147.49 478.71,147.33" fill="#00ffff" fill-opacity="0.45" stroke="#00ffff" stroke-width="1.1" stroke-linejoin="round"/>
<polygon points="491.46,144.3 492.3,146.71 494.62,146.86 492.83,148.5 493.41,151 491.46,149.6 489.5,151 490.09,148.5 488.29,146.86 490.61,146.71" fill="#00ffff" fill-opacity="0.45" stroke="#00ffff" stroke-width="1.1" stroke-linejoin="round"/>
<polygon points="503.35,143.89 504.2,146.29 506.52,146.44 504.72,148.08 505.31,150.58 503.35,149.19 501.39,150.58 501.98,148.08 500.18,146.44 502.51,146.29" fill="#00ffff" fill-opacity="0.45" stroke="#00ffff" stroke-width="1.1" stroke-linejoin="round"/>
<polygon points="515.25,143.57 516.09,145.98 518.41,146.13 516.62,147.77 517.2,150.27 515.25,148.87 513.29,150.27 513.88,147.77 512.08,146.13 514.4,145.98" fill="#00ffff" fill-opacity="0.45" stroke="#00ffff" stroke-width="1.1" stroke-linejoin="round"/>
<polygon points="527.14,143.57 527.99,145.98 530.31,146.13 528.51,147.77 529.1,150.27 527.14,148.87 525.18,150.27 525.77,147.77 523.97,146.13 526.3,145.98" fill="#00ffff" fill-opacity="0.45" stroke="#00ffff" stroke-width="1.1" stroke-linejoin="round"/>
<polygon points="539.04,143.89 539.88,146.29 542.2,146.44 540.41,148.08 540.99,150.58 539.04,149.19 537.08,150.58 537.67,148.08 535.87,146.44 538.19,146.29" fill="#00ffff" fill-opacity="0.45" stroke="#00ffff" stroke-width="1.1" stroke-linejoin="round"/>
<polygon points="550.93,144.2 551.78,146.61 554.1,146.76 552.3,148.39 552.89,150.89 550.93,149.5 548.97,150.89 549.56,148.39 547.77,146.76 550.09,146.61" fill="#00ffff" fill-opacity="0.45" stroke="#00ffff" stroke-width="1.1" stroke-linejoin="round"/>
<polygon points="562.83,144.51 563.67,146.92 565.99,147.07 564.2,148.71 564.78,151.21 562.83,149.81 560.87,151.21 561.46,148.71 559.66,147.07 561.98,146.92" fill="#00ffff" fill-opacity="0.45" stroke="#00ffff" stroke-width="1.1" stroke-linejoin="round"/>
<polygon points="574.72,144.82 575.57,147.23 577.89,147.38 576.09,149.02 576.68,151.52 574.72,150.12 572.77,151.52 573.35,149.02 571.56,147.38 573.88,147.23" fill="#00ffff" fill-opacity="0.45" stroke="#00ffff" stroke-width="1.1" stroke-linejoin="round"/>
<polygon points="586.62,145.24 587.46,147.65 589.78,147.8 587.99,149.44 588.58,151.93 586.62,150.54 584.66,151.93 585.25,149.44 583.45,147.8 585.77,147.65" fill="#00ffff" fill-opacity="0.45" stroke="#00ffff" stroke-width="1.1" stroke-linejoin="round"/>
<polygon points="598.51,146.18 599.36,148.58 601.68,148.74 599.88,150.37 600.47,152.87 598.51,151.48 596.56,152.87 597.14,150.37 595.35,148.74 597.67,148.58" fill="#00ffff" fill-opacity="0.45" stroke="#00ffff" stroke-width="1.1" stroke-linejoin="round"/>
<polygon points="610.41,147.64 611.25,150.04 613.58,150.19 611.78,151.83 612.37,154.33 610.41,152.94 608.45,154.33 609.04,151.83 607.24,150.19 609.56,150.04" fill="#00ffff" fill-opacity="0.45" stroke="#00ffff" stroke-width="1.1" stroke-linejoin="round"/>
<polygon points="622.3,149.2 623.15,151.61 625.47,151.76 623.67,153.4 624.26,155.89 622.3,154.5 620.35,155.89 620.93,153.4 619.14,151.76 621.46,151.61" fill="#00ffff" fill-opacity="0.45" stroke="#00ffff" stroke-width="1.1" stroke-linejoin="round"/>
<polygon points="634.2,150.97 635.04,153.38 637.37,153.53 635.57,155.17 636.16,157.67 634.2,156.27 632.24,157.67 632.83,155.17 631.03,153.53 633.35,153.38" fill="#00ffff" fill-opacity="0.45" stroke="#00ffff" stroke-width="1.1" stroke-linejoin="round"/>
<polygon points="646.09,152.53 646.94,154.94 649.26,155.09 647.46,156.73 648.05,159.23 646.09,157.83 644.14,159.23 644.72,156.73 642.93,155.09 645.25,154.94" fill="#00ffff" fill-opacity="0.45" stroke="#00ffff" stroke-width="1.1" stroke-linejoin="round"/>
<polygon points="657.99,154.1 658.84,156.5 661.16,156.65 659.36,158.29 659.95,160.79 657.99,159.4 656.03,160.79 656.62,158.29 654.82,156.65 657.14,156.5" fill="#00ffff" fill-opacity="0.45" stroke="#00ffff" stroke-width="1.1" stroke-linejoin="round"/>
<polygon points="669.88,155.56 670.73,157.96 673.05,158.11 671.25,159.75 671.84,162.25 669.88,160.86 667.93,162.25 668.51,159.75 666.72,158.11 669.04,157.96" fill="#00ffff" fill-opacity="0.45" stroke="#00ffff" stroke-width="1.1" stroke-linejoin="round"/>
<polyline points="384.4,149.46 396.3,150.09 408.19,150.4 420.09,150.5 431.98,150.5 443.88,150.4 455.77,149.98 467.67,149.36 479.56,148.63 491.46,148 503.35,147.59 515.25,147.27 527.14,147.27 539.04,147.59 550.93,147.9 562.83,148.21 574.72,148.52 586.62,148.94 598.51,149.88 610.41,151.34 622.3,152.9 634.2,154.67 646.09,156.23 657.99,157.8 669.88,159.26 679.4,159.88" fill="none" stroke="#00ff00" stroke-width="1.0" stroke-linejoin="round"/>
<polygon points="384.4,146.36 385.23,147.9 386.87,147.91 386.06,149.46 386.87,151.01 385.23,151.02 384.4,152.56 383.57,151.02 381.93,151.01 382.74,149.46 381.93,147.91 383.57,147.9" fill="#00ff00" fill-opacity="0.35" stroke="#00ff00" stroke-width="1.3"/>
<polygon points="396.3,146.99 397.12,148.53 398.77,148.54 397.95,150.09 398.77,151.64 397.12,151.65 396.3,153.19 395.47,151.65 393.83,151.64 394.64,150.09 393.83,148.54 395.47,148.53" fill="#00ff00" fill-opacity="0.35" stroke="#00ff00" stroke-width="1.3"/>
<polygon points="408.19,147.3 409.02,148.84 410.66,148.85 409.85,150.4 410.66,151.95 409.02,151.96 408.19,153.5 407.36,151.96 405.72,151.95 406.53,150.4 405.72,148.85 407.36,148.84" fill="#00ff00" fill-opacity="0.35" stroke="#00ff00" stroke-width="1.3"/>
<polygon points="420.09,147.4 420.91,148.95 422.56,148.95 421.74,150.5 422.56,152.05 420.91,152.06 420.09,153.6 419.26,152.06 417.62,152.05 418.43,150.5 417.62,148.95 419.26,148.95" fill="#00ff00" fill-opacity="0.35" stroke="#00ff00" stroke-width="1.3"/>
<polygon points="431.98,147.4 432.81,148.95 434.45,148.95 433.64,150.5 434.45,152.05 432.81,152.06 431.98,153.6 431.15,152.06 429.51,152.05 430.32,150.5 429.51,148.95 431.15,148.95" fill="#00ff00" fill-opacity="0.35" stroke="#00ff00" stroke-width="1.3"/>
<polygon points="443.88,147.3 444.7,148.84 446.35,148.85 445.53,150.4 446.35,151.95 444.7,151.96 443.88,153.5 443.05,151.96 441.41,151.95 442.22,150.4 441.41,148.85 443.05,148.84" fill="#00ff00" fill-opacity="0.35" stroke="#00ff00" stroke-width="1.3"/>
<polygon points="455.77,146.88 456.6,148.42 458.24,148.43 457.43,149.98 458.24,151.53 456.6,151.54 455.77,153.08 454.94,151.54 453.3,151.53 454.11,149.98 453.3,148.43 454.94,148.42" fill="#00ff00" fill-opacity="0.35" stroke="#00ff00" stroke-width="1.3"/>
<polygon points="467.67,146.26 468.49,147.8 470.14,147.81 469.32,149.36 470.14,150.91 468.49,150.92 467.67,152.46 466.84,150.92 465.2,150.91 466.01,149.36 465.2,147.81 466.84,147.8" fill="#00ff00" fill-opacity="0.35" stroke="#00ff00" stroke-width="1.3"/>
<polygon points="479.56,145.53 480.39,147.07 482.03,147.08 481.22,148.63 482.03,150.18 480.39,150.19 479.56,151.73 478.73,150.19 477.09,150.18 477.91,148.63 477.09,147.08 478.73,147.07" fill="#00ff00" fill-opacity="0.35" stroke="#00ff00" stroke-width="1.3"/>
<polygon points="491.46,144.9 492.28,146.45 493.93,146.45 493.11,148 493.93,149.55 492.28,149.56 491.46,151.1 490.63,149.56 488.99,149.55 489.8,148 488.99,146.45 490.63,146.45" fill="#00ff00" fill-opacity="0.35" stroke="#00ff00" stroke-width="1.3"/>
<polygon points="503.35,144.49 504.18,146.03 505.82,146.04 505.01,147.59 505.82,149.14 504.18,149.15 503.35,150.69 502.52,149.15 500.88,149.14 501.7,147.59 500.88,146.04 502.52,146.03" fill="#00ff00" fill-opacity="0.35" stroke="#00ff00" stroke-width="1.3"/>
<polygon points="515.25,144.17 516.07,145.72 517.72,145.72 516.9,147.27 517.72,148.82 516.07,148.83 515.25,150.37 514.42,148.83 512.78,148.82 513.59,147.27 512.78,145.72 514.42,145.72" fill="#00ff00" fill-opacity="0.35" stroke="#00ff00" stroke-width="1.3"/>
<polygon points="527.14,144.17 527.97,145.72 529.61,145.72 528.8,147.27 529.61,148.82 527.97,148.83 527.14,150.37 526.31,148.83 524.67,148.82 525.49,147.27 524.67,145.72 526.31,145.72" fill="#00ff00" fill-opacity="0.35" stroke="#00ff00" stroke-width="1.3"/>
<polygon points="539.04,144.49 539.87,146.03 541.51,146.04 540.69,147.59 541.51,149.14 539.87,149.15 539.04,150.69 538.21,149.15 536.57,149.14 537.38,147.59 536.57,146.04 538.21,146.03" fill="#00ff00" fill-opacity="0.35" stroke="#00ff00" stroke-width="1.3"/>
<polygon points="550.93,144.8 551.76,146.34 553.4,146.35 552.59,147.9 553.4,149.45 551.76,149.46 550.93,151 550.1,149.46 548.46,149.45 549.28,147.9 548.46,146.35 550.1,146.34" fill="#00ff00" fill-opacity="0.35" stroke="#00ff00" stroke-width="1.3"/>
<polygon points="562.83,145.11 563.66,146.65 565.3,146.66 564.48,148.21 565.3,149.76 563.66,149.77 562.83,151.31 562,149.77 560.36,149.76 561.17,148.21 560.36,146.66 562,146.65" fill="#00ff00" fill-opacity="0.35" stroke="#00ff00" stroke-width="1.3"/>
<polygon points="574.72,145.42 575.55,146.97 577.19,146.97 576.38,148.52 577.19,150.07 575.55,150.08 574.72,151.62 573.89,150.08 572.25,150.07 573.07,148.52 572.25,146.97 573.89,146.97" fill="#00ff00" fill-opacity="0.35" stroke="#00ff00" stroke-width="1.3"/>
<polygon points="586.62,145.84 587.45,147.38 589.09,147.39 588.27,148.94 589.09,150.49 587.45,150.5 586.62,152.04 585.79,150.5 584.15,150.49 584.96,148.94 584.15,147.39 585.79,147.38" fill="#00ff00" fill-opacity="0.35" stroke="#00ff00" stroke-width="1.3"/>
<polygon points="598.51,146.78 599.34,148.32 600.98,148.33 600.17,149.88 600.98,151.43 599.34,151.44 598.51,152.98 597.68,151.44 596.04,151.43 596.86,149.88 596.04,148.33 597.68,148.32" fill="#00ff00" fill-opacity="0.35" stroke="#00ff00" stroke-width="1.3"/>
<polygon points="610.41,148.24 611.24,149.78 612.88,149.79 612.06,151.34 612.88,152.89 611.24,152.9 610.41,154.44 609.58,152.9 607.94,152.89 608.75,151.34 607.94,149.79 609.58,149.78" fill="#00ff00" fill-opacity="0.35" stroke="#00ff00" stroke-width="1.3"/>
<polygon points="622.3,149.8 623.13,151.34 624.77,151.35 623.96,152.9 624.77,154.45 623.13,154.46 622.3,156 621.48,154.46 619.83,154.45 620.65,152.9 619.83,151.35 621.48,151.34" fill="#00ff00" fill-opacity="0.35" stroke="#00ff00" stroke-width="1.3"/>
<polygon points="634.2,151.57 635.03,153.11 636.67,153.12 635.85,154.67 636.67,156.22 635.03,156.23 634.2,157.77 633.37,156.23 631.73,156.22 632.54,154.67 631.73,153.12 633.37,153.11" fill="#00ff00" fill-opacity="0.35" stroke="#00ff00" stroke-width="1.3"/>
<polygon points="646.09,153.13 646.92,154.68 648.56,154.68 647.75,156.23 648.56,157.78 646.92,157.79 646.09,159.33 645.27,157.79 643.62,157.78 644.44,156.23 643.62,154.68 645.27,154.68" fill="#00ff00" fill-opacity="0.35" stroke="#00ff00" stroke-width="1.3"/>
<polygon points="657.99,154.7 658.82,156.24 660.46,156.25 659.64,157.8 660.46,159.35 658.82,159.36 657.99,160.9 657.16,159.36 655.52,159.35 656.33,157.8 655.52,156.25 657.16,156.24" fill="#00ff00" fill-opacity="0.35" stroke="#00ff00" stroke-width="1.3"/>
<polygon points="669.88,156.16 670.71,157.7 672.35,157.71 671.54,159.26 672.35,160.81 670.71,160.81 669.88,162.36 669.06,160.81 667.41,160.81 668.23,159.26 667.41,157.71 669.06,157.7" fill="#00ff00" fill-opacity="0.35" stroke="#00ff00" stroke-width="1.3"/>
<polyline points="384.4,149.46 396.3,145.19 408.19,139.67 420.09,135.19 431.98,131.85 443.88,127.9 455.77,124.67 467.67,120.81 479.56,117.48 491.46,113.83 503.35,110.7 515.25,106.43 527.14,102.47 539.04,98.93 550.93,94.76 562.83,90.6 574.72,86.64 586.62,82.78 598.51,78.2 610.41,74.55 622.3,70.49 634.2,65.59 646.09,61.74 657.99,57.88 669.88,53.51 679.4,51.73" fill="none" stroke="#ff0000" stroke-width="1.0" stroke-linejoin="round"/>
<circle cx="384.4" cy="149.46" r="2.9" fill="none" stroke="#ff0000" stroke-width="1.1"/>
<circle cx="396.3" cy="145.19" r="2.9" fill="none" stroke="#ff0000" stroke-width="1.1"/>
<circle cx="408.19" cy="139.67" r="2.9" fill="none" stroke="#ff0000" stroke-width="1.1"/>
<circle cx="420.09" cy="135.19" r="2.9" fill="none" stroke="#ff0000" stroke-width="1.1"/>
<circle cx="431.98" cy="131.85" r="2.9" fill="none" stroke="#ff0000" stroke-width="1.1"/>
<circle cx="443.88" cy="127.9" r="2.9" fill="none" stroke="#ff0000" stroke-width="1.1"/>
<circle cx="455.77" cy="124.67" r="2.9" fill="none" stroke="#ff0000" stroke-width="1.1"/>
<circle cx="467.67" cy="120.81" r="2.9" fill="none" stroke="#ff0000" stroke-width="1.1"/>
<circle cx="479.56" cy="117.48" r="2.9" fill="none" stroke="#ff0000" stroke-width="1.1"/>
<circle cx="491.46" cy="113.83" r="2.9" fill="none" stroke="#ff0000" stroke-width="1.1"/>
<circle cx="503.35" cy="110.7" r="2.9" fill="none" stroke="#ff0000" stroke-width="1.1"/>
<circle cx="515.25" cy="106.43" r="2.9" fill="none" stroke="#ff0000" stroke-width="1.1"/>
<circle cx="527.14" cy="102.47" r="2.9" fill="none" stroke="#ff0000" stroke-width="1.1"/>
<circle cx="539.04" cy="98.93" r="2.9" fill="none" stroke="#ff0000" stroke-width="1.1"/>
<circle cx="550.93" cy="94.76" r="2.9" fill="none" stroke="#ff0000" stroke-width="1.1"/>
<circle cx="562.83" cy="90.6" r="2.9" fill="none" stroke="#ff0000" stroke-width="1.1"/>
<circle cx="574.72" cy="86.64" r="2.9" fill="none" stroke="#ff0000" stroke-width="1.1"/>
<circle cx="586.62" cy="82.78" r="2.9" fill="none" stroke="#ff0000" stroke-width="1.1"/>
<circle cx="598.51" cy="78.2" r="2.9" fill="none" stroke="#ff0000" stroke-width="1.1"/>
<circle cx="610.41" cy="74.55" r="2.9" fill="none" stroke="#ff0000" stroke-width="1.1"/>
<circle cx="622.3" cy="70.49" r="2.9" fill="none" stroke="#ff0000" stroke-width="1.1"/>
<circle cx="634.2" cy="65.59" r="2.9" fill="none" stroke="#ff0000" stroke-width="1.1"/>
<circle cx="646.09" cy="61.74" r="2.9" fill="none" stroke="#ff0000" stroke-width="1.1"/>
<circle cx="657.99" cy="57.88" r="2.9" fill="none" stroke="#ff0000" stroke-width="1.1"/>
<circle cx="669.88" cy="53.51" r="2.9" fill="none" stroke="#ff0000" stroke-width="1.1"/>
<polyline points="384.4,149.46 396.3,146.03 408.19,142.61 420.09,139.21 431.98,135.82 443.88,132.45 455.77,129.1 467.67,125.76 479.56,122.43 491.46,119.13 503.35,115.83 515.25,112.56 527.14,109.29 539.04,106.05 550.93,102.82 562.83,99.6 574.72,96.4 586.62,93.22 598.51,90.05 610.41,86.9 622.3,83.76 634.2,80.64 646.09,77.53 657.99,74.44 669.88,71.37 679.4,68.92" fill="none" stroke="#ffff00" stroke-width="2.0" stroke-linejoin="round"/>
</g>
<path d="M429.6 170.3v-2.5M429.6 3.6v2.5M477.18 170.3v-2.5M477.18 3.6v2.5M524.76 170.3v-2.5M524.76 3.6v2.5M572.34 170.3v-2.5M572.34 3.6v2.5M619.92 170.3v-2.5M619.92 3.6v2.5M667.5 170.3v-2.5M667.5 3.6v2.5M384.5 170.3h2.5M678.5 170.3h-2.5M384.5 149.46h2.5M678.5 149.46h-2.5M384.5 128.62h2.5M678.5 128.62h-2.5M384.5 107.79h2.5M678.5 107.79h-2.5M384.5 86.95h2.5M678.5 86.95h-2.5M384.5 66.11h2.5M678.5 66.11h-2.5M384.5 45.28h2.5M678.5 45.28h-2.5M384.5 24.44h2.5M678.5 24.44h-2.5M384.5 3.6h2.5M678.5 3.6h-2.5" stroke="#7a7a7a" stroke-width="0.8" fill="none"/>
<text x="429.6" y="179.2" text-anchor="middle" class="tl">20</text>
<text x="477.18" y="179.2" text-anchor="middle" class="tl">40</text>
<text x="524.76" y="179.2" text-anchor="middle" class="tl">60</text>
<text x="572.34" y="179.2" text-anchor="middle" class="tl">80</text>
<text x="619.92" y="179.2" text-anchor="middle" class="tl">100</text>
<text x="667.5" y="179.2" text-anchor="middle" class="tl">120</text>
<text x="380.9" y="172.7" text-anchor="end" class="tl" dx="0.35">-0.02</text>
<text x="380.9" y="151.86" text-anchor="end" class="tl" dx="0.35">0</text>
<text x="380.9" y="131.03" text-anchor="end" class="tl" dx="0.35">0.02</text>
<text x="380.9" y="110.19" text-anchor="end" class="tl" dx="0.35">0.04</text>
<text x="380.9" y="89.35" text-anchor="end" class="tl" dx="0.35">0.06</text>
<text x="380.9" y="68.51" text-anchor="end" class="tl" dx="0.35">0.08</text>
<text x="380.9" y="47.68" text-anchor="end" class="tl" dx="0.35">0.1</text>
<text x="380.9" y="26.84" text-anchor="end" class="tl" dx="0.35">0.12</text>
<text x="380.9" y="6" text-anchor="end" class="tl" dx="0.35">0.14</text>
<text x="531.5" y="191.5" text-anchor="middle" class="xl" textLength="25" lengthAdjust="spacingAndGlyphs">Time</text>
<text transform="translate(360.9,87.75) rotate(-90)" x="0" y="0" text-anchor="middle" class="yl" textLength="73" lengthAdjust="spacingAndGlyphs">Rate of return</text>
<text x="433.5" y="64.3" class="mt" textLength="40.3" lengthAdjust="spacingAndGlyphs">m=10</text>
<g>
<rect x="35.3" y="210.1" width="295.5" height="174.8" fill="none" stroke="#7a7a7a" stroke-width="1"/>
<polyline points="35.1,363.05 47.03,355.95 58.96,350.16 70.89,344.04 82.83,338.58 94.76,332.68 106.69,326.67 118.62,320.77 130.55,314.98 142.48,309.85 154.41,304.38 166.35,298.92 178.28,293.24 190.21,287.67 202.14,282.64 214.07,276.85 226,271.72 237.93,267.24 249.87,262.1 261.8,257.3 273.73,252.16 285.66,247.68 297.59,243.75 309.52,239.49 321.45,234.9 331,231.4" fill="none" stroke="#0000ff" stroke-width="1.0" stroke-linejoin="round"/>
<rect x="32.6" y="360.55" width="5" height="5" fill="none" stroke="#0000ff" stroke-width="1"/>
<rect x="44.53" y="353.45" width="5" height="5" fill="none" stroke="#0000ff" stroke-width="1"/>
<rect x="56.46" y="347.66" width="5" height="5" fill="none" stroke="#0000ff" stroke-width="1"/>
<rect x="68.39" y="341.54" width="5" height="5" fill="none" stroke="#0000ff" stroke-width="1"/>
<rect x="80.33" y="336.08" width="5" height="5" fill="none" stroke="#0000ff" stroke-width="1"/>
<rect x="92.26" y="330.18" width="5" height="5" fill="none" stroke="#0000ff" stroke-width="1"/>
<rect x="104.19" y="324.17" width="5" height="5" fill="none" stroke="#0000ff" stroke-width="1"/>
<rect x="116.12" y="318.27" width="5" height="5" fill="none" stroke="#0000ff" stroke-width="1"/>
<rect x="128.05" y="312.48" width="5" height="5" fill="none" stroke="#0000ff" stroke-width="1"/>
<rect x="139.98" y="307.35" width="5" height="5" fill="none" stroke="#0000ff" stroke-width="1"/>
<rect x="151.91" y="301.88" width="5" height="5" fill="none" stroke="#0000ff" stroke-width="1"/>
<rect x="163.85" y="296.42" width="5" height="5" fill="none" stroke="#0000ff" stroke-width="1"/>
<rect x="175.78" y="290.74" width="5" height="5" fill="none" stroke="#0000ff" stroke-width="1"/>
<rect x="187.71" y="285.17" width="5" height="5" fill="none" stroke="#0000ff" stroke-width="1"/>
<rect x="199.64" y="280.14" width="5" height="5" fill="none" stroke="#0000ff" stroke-width="1"/>
<rect x="211.57" y="274.35" width="5" height="5" fill="none" stroke="#0000ff" stroke-width="1"/>
<rect x="223.5" y="269.22" width="5" height="5" fill="none" stroke="#0000ff" stroke-width="1"/>
<rect x="235.43" y="264.74" width="5" height="5" fill="none" stroke="#0000ff" stroke-width="1"/>
<rect x="247.37" y="259.6" width="5" height="5" fill="none" stroke="#0000ff" stroke-width="1"/>
<rect x="259.3" y="254.8" width="5" height="5" fill="none" stroke="#0000ff" stroke-width="1"/>
<rect x="271.23" y="249.66" width="5" height="5" fill="none" stroke="#0000ff" stroke-width="1"/>
<rect x="283.16" y="245.18" width="5" height="5" fill="none" stroke="#0000ff" stroke-width="1"/>
<rect x="295.09" y="241.25" width="5" height="5" fill="none" stroke="#0000ff" stroke-width="1"/>
<rect x="307.02" y="236.99" width="5" height="5" fill="none" stroke="#0000ff" stroke-width="1"/>
<rect x="318.95" y="232.4" width="5" height="5" fill="none" stroke="#0000ff" stroke-width="1"/>
<polyline points="35.1,363.05 47.03,359.66 58.96,353.76 70.89,350.16 82.83,346.01 94.76,342.18 106.69,337.92 118.62,333.99 130.55,329.73 142.48,325.58 154.41,321.64 166.35,317.49 178.28,313.89 190.21,309.74 202.14,305.37 214.07,301 226,297.03 237.93,293.6 249.87,289.41 261.8,284.57 273.73,280.92 285.66,276.95 297.59,272.87 309.52,269.12 321.45,265.48 331,261.88" fill="none" stroke="#ff00ff" stroke-width="1.0" stroke-linejoin="round"/>
<path d="M35.1 358.85L38.1 363.05L35.1 367.25L32.1 363.05Z" fill="none" stroke="#ff00ff" stroke-width="1"/>
<path d="M47.03 355.46L50.03 359.66L47.03 363.86L44.03 359.66Z" fill="none" stroke="#ff00ff" stroke-width="1"/>
<path d="M58.96 349.56L61.96 353.76L58.96 357.96L55.96 353.76Z" fill="none" stroke="#ff00ff" stroke-width="1"/>
<path d="M70.89 345.96L73.89 350.16L70.89 354.36L67.89 350.16Z" fill="none" stroke="#ff00ff" stroke-width="1"/>
<path d="M82.83 341.81L85.83 346.01L82.83 350.21L79.83 346.01Z" fill="none" stroke="#ff00ff" stroke-width="1"/>
<path d="M94.76 337.98L97.76 342.18L94.76 346.38L91.76 342.18Z" fill="none" stroke="#ff00ff" stroke-width="1"/>
<path d="M106.69 333.72L109.69 337.92L106.69 342.12L103.69 337.92Z" fill="none" stroke="#ff00ff" stroke-width="1"/>
<path d="M118.62 329.79L121.62 333.99L118.62 338.19L115.62 333.99Z" fill="none" stroke="#ff00ff" stroke-width="1"/>
<path d="M130.55 325.53L133.55 329.73L130.55 333.93L127.55 329.73Z" fill="none" stroke="#ff00ff" stroke-width="1"/>
<path d="M142.48 321.38L145.48 325.58L142.48 329.78L139.48 325.58Z" fill="none" stroke="#ff00ff" stroke-width="1"/>
<path d="M154.41 317.44L157.41 321.64L154.41 325.84L151.41 321.64Z" fill="none" stroke="#ff00ff" stroke-width="1"/>
<path d="M166.35 313.29L169.35 317.49L166.35 321.69L163.35 317.49Z" fill="none" stroke="#ff00ff" stroke-width="1"/>
<path d="M178.28 309.69L181.28 313.89L178.28 318.09L175.28 313.89Z" fill="none" stroke="#ff00ff" stroke-width="1"/>
<path d="M190.21 305.54L193.21 309.74L190.21 313.94L187.21 309.74Z" fill="none" stroke="#ff00ff" stroke-width="1"/>
<path d="M202.14 301.17L205.14 305.37L202.14 309.57L199.14 305.37Z" fill="none" stroke="#ff00ff" stroke-width="1"/>
<path d="M214.07 296.8L217.07 301L214.07 305.2L211.07 301Z" fill="none" stroke="#ff00ff" stroke-width="1"/>
<path d="M226 292.83L229 297.03L226 301.23L223 297.03Z" fill="none" stroke="#ff00ff" stroke-width="1"/>
<path d="M237.93 289.4L240.93 293.6L237.93 297.8L234.93 293.6Z" fill="none" stroke="#ff00ff" stroke-width="1"/>
<path d="M249.87 285.21L252.87 289.41L249.87 293.61L246.87 289.41Z" fill="none" stroke="#ff00ff" stroke-width="1"/>
<path d="M261.8 280.37L264.8 284.57L261.8 288.77L258.8 284.57Z" fill="none" stroke="#ff00ff" stroke-width="1"/>
<path d="M273.73 276.72L276.73 280.92L273.73 285.12L270.73 280.92Z" fill="none" stroke="#ff00ff" stroke-width="1"/>
<path d="M285.66 272.75L288.66 276.95L285.66 281.15L282.66 276.95Z" fill="none" stroke="#ff00ff" stroke-width="1"/>
<path d="M297.59 268.67L300.59 272.87L297.59 277.07L294.59 272.87Z" fill="none" stroke="#ff00ff" stroke-width="1"/>
<path d="M309.52 264.92L312.52 269.12L309.52 273.32L306.52 269.12Z" fill="none" stroke="#ff00ff" stroke-width="1"/>
<path d="M321.45 261.28L324.45 265.48L321.45 269.68L318.45 265.48Z" fill="none" stroke="#ff00ff" stroke-width="1"/>
<polyline points="35.1,363.05 47.03,361.08 58.96,360.32 70.89,359.99 82.83,359.23 94.76,358.35 106.69,357.7 118.62,356.5 130.55,355.29 142.48,354.2 154.41,353.44 166.35,352.67 178.28,352.12 190.21,351.69 202.14,351.36 214.07,351.03 226,350.7 237.93,350.6 249.87,350.6 261.8,350.92 273.73,351.47 285.66,352.02 297.59,352.45 309.52,352.67 321.45,352.67 331,352.67" fill="none" stroke="#00ffff" stroke-width="1.0" stroke-linejoin="round"/>
<polygon points="35.1,359.35 35.95,361.76 38.27,361.91 36.47,363.54 37.06,366.04 35.1,364.65 33.14,366.04 33.73,363.54 31.93,361.91 34.25,361.76" fill="#00ffff" fill-opacity="0.45" stroke="#00ffff" stroke-width="1.1" stroke-linejoin="round"/>
<polygon points="47.03,357.38 47.88,359.79 50.2,359.94 48.4,361.58 48.99,364.08 47.03,362.68 45.07,364.08 45.66,361.58 43.86,359.94 46.19,359.79" fill="#00ffff" fill-opacity="0.45" stroke="#00ffff" stroke-width="1.1" stroke-linejoin="round"/>
<polygon points="58.96,356.62 59.81,359.02 62.13,359.18 60.33,360.81 60.92,363.31 58.96,361.92 57.01,363.31 57.59,360.81 55.8,359.18 58.12,359.02" fill="#00ffff" fill-opacity="0.45" stroke="#00ffff" stroke-width="1.1" stroke-linejoin="round"/>
<polygon points="70.89,356.29 71.74,358.7 74.06,358.85 72.26,360.49 72.85,362.98 70.89,361.59 68.94,362.98 69.52,360.49 67.73,358.85 70.05,358.7" fill="#00ffff" fill-opacity="0.45" stroke="#00ffff" stroke-width="1.1" stroke-linejoin="round"/>
<polygon points="82.83,355.53 83.67,357.93 85.99,358.08 84.2,359.72 84.78,362.22 82.83,360.83 80.87,362.22 81.46,359.72 79.66,358.08 81.98,357.93" fill="#00ffff" fill-opacity="0.45" stroke="#00ffff" stroke-width="1.1" stroke-linejoin="round"/>
<polygon points="94.76,354.65 95.6,357.06 97.92,357.21 96.13,358.85 96.71,361.35 94.76,359.95 92.8,361.35 93.39,358.85 91.59,357.21 93.91,357.06" fill="#00ffff" fill-opacity="0.45" stroke="#00ffff" stroke-width="1.1" stroke-linejoin="round"/>
<polygon points="106.69,354 107.54,356.4 109.86,356.55 108.06,358.19 108.65,360.69 106.69,359.3 104.73,360.69 105.32,358.19 103.52,356.55 105.84,356.4" fill="#00ffff" fill-opacity="0.45" stroke="#00ffff" stroke-width="1.1" stroke-linejoin="round"/>
<polygon points="118.62,352.8 119.47,355.2 121.79,355.35 119.99,356.99 120.58,359.49 118.62,358.1 116.66,359.49 117.25,356.99 115.45,355.35 117.77,355.2" fill="#00ffff" fill-opacity="0.45" stroke="#00ffff" stroke-width="1.1" stroke-linejoin="round"/>
<polygon points="130.55,351.59 131.4,354 133.72,354.15 131.92,355.79 132.51,358.29 130.55,356.89 128.59,358.29 129.18,355.79 127.38,354.15 129.71,354" fill="#00ffff" fill-opacity="0.45" stroke="#00ffff" stroke-width="1.1" stroke-linejoin="round"/>
<polygon points="142.48,350.5 143.33,352.91 145.65,353.06 143.85,354.7 144.44,357.19 142.48,355.8 140.53,357.19 141.11,354.7 139.32,353.06 141.64,352.91" fill="#00ffff" fill-opacity="0.45" stroke="#00ffff" stroke-width="1.1" stroke-linejoin="round"/>
<polygon points="154.41,349.74 155.26,352.14 157.58,352.29 155.78,353.93 156.37,356.43 154.41,355.04 152.46,356.43 153.04,353.93 151.25,352.29 153.57,352.14" fill="#00ffff" fill-opacity="0.45" stroke="#00ffff" stroke-width="1.1" stroke-linejoin="round"/>
<polygon points="166.35,348.97 167.19,351.38 169.51,351.53 167.72,353.17 168.3,355.66 166.35,354.27 164.39,355.66 164.98,353.17 163.18,351.53 165.5,351.38" fill="#00ffff" fill-opacity="0.45" stroke="#00ffff" stroke-width="1.1" stroke-linejoin="round"/>
<polygon points="178.28,348.43 179.12,350.83 181.44,350.98 179.65,352.62 180.23,355.12 178.28,353.73 176.32,355.12 176.91,352.62 175.11,350.98 177.43,350.83" fill="#00ffff" fill-opacity="0.45" stroke="#00ffff" stroke-width="1.1" stroke-linejoin="round"/>
<polygon points="190.21,347.99 191.06,350.39 193.38,350.54 191.58,352.18 192.17,354.68 190.21,353.29 188.25,354.68 188.84,352.18 187.04,350.54 189.36,350.39" fill="#00ffff" fill-opacity="0.45" stroke="#00ffff" stroke-width="1.1" stroke-linejoin="round"/>
<polygon points="202.14,347.66 202.99,350.07 205.31,350.22 203.51,351.85 204.1,354.35 202.14,352.96 200.18,354.35 200.77,351.85 198.97,350.22 201.29,350.07" fill="#00ffff" fill-opacity="0.45" stroke="#00ffff" stroke-width="1.1" stroke-linejoin="round"/>
<polygon points="214.07,347.33 214.92,349.74 217.24,349.89 215.44,351.53 216.03,354.03 214.07,352.63 212.11,354.03 212.7,351.53 210.9,349.89 213.23,349.74" fill="#00ffff" fill-opacity="0.45" stroke="#00ffff" stroke-width="1.1" stroke-linejoin="round"/>
<polygon points="226,347 226.85,349.41 229.17,349.56 227.37,351.2 227.96,353.7 226,352.3 224.05,353.7 224.63,351.2 222.84,349.56 225.16,349.41" fill="#00ffff" fill-opacity="0.45" stroke="#00ffff" stroke-width="1.1" stroke-linejoin="round"/>
<polygon points="237.93,346.9 238.78,349.3 241.1,349.45 239.3,351.09 239.89,353.59 237.93,352.2 235.98,353.59 236.57,351.09 234.77,349.45 237.09,349.3" fill="#00ffff" fill-opacity="0.45" stroke="#00ffff" stroke-width="1.1" stroke-linejoin="round"/>
<polygon points="249.87,346.9 250.71,349.3 253.03,349.45 251.24,351.09 251.82,353.59 249.87,352.2 247.91,353.59 248.5,351.09 246.7,349.45 249.02,349.3" fill="#00ffff" fill-opacity="0.45" stroke="#00ffff" stroke-width="1.1" stroke-linejoin="round"/>
<polygon points="261.8,347.22 262.64,349.63 264.96,349.78 263.17,351.42 263.75,353.92 261.8,352.52 259.84,353.92 260.43,351.42 258.63,349.78 260.95,349.63" fill="#00ffff" fill-opacity="0.45" stroke="#00ffff" stroke-width="1.1" stroke-linejoin="round"/>
<polygon points="273.73,347.77 274.58,350.18 276.9,350.33 275.1,351.96 275.69,354.46 273.73,353.07 271.77,354.46 272.36,351.96 270.56,350.33 272.88,350.18" fill="#00ffff" fill-opacity="0.45" stroke="#00ffff" stroke-width="1.1" stroke-linejoin="round"/>
<polygon points="285.66,348.32 286.51,350.72 288.83,350.87 287.03,352.51 287.62,355.01 285.66,353.62 283.7,355.01 284.29,352.51 282.49,350.87 284.81,350.72" fill="#00ffff" fill-opacity="0.45" stroke="#00ffff" stroke-width="1.1" stroke-linejoin="round"/>
<polygon points="297.59,348.75 298.44,351.16 300.76,351.31 298.96,352.95 299.55,355.45 297.59,354.05 295.63,355.45 296.22,352.95 294.42,351.31 296.75,351.16" fill="#00ffff" fill-opacity="0.45" stroke="#00ffff" stroke-width="1.1" stroke-linejoin="round"/>
<polygon points="309.52,348.97 310.37,351.38 312.69,351.53 310.89,353.17 311.48,355.66 309.52,354.27 307.57,355.66 308.15,353.17 306.36,351.53 308.68,351.38" fill="#00ffff" fill-opacity="0.45" stroke="#00ffff" stroke-width="1.1" stroke-linejoin="round"/>
<polygon points="321.45,348.97 322.3,351.38 324.62,351.53 322.82,353.17 323.41,355.66 321.45,354.27 319.5,355.66 320.09,353.17 318.29,351.53 320.61,351.38" fill="#00ffff" fill-opacity="0.45" stroke="#00ffff" stroke-width="1.1" stroke-linejoin="round"/>
<polyline points="35.1,363.05 47.03,363.71 58.96,364.03 70.89,364.14 82.83,364.14 94.76,364.03 106.69,363.6 118.62,362.94 130.55,362.18 142.48,361.52 154.41,361.08 166.35,360.76 178.28,360.76 190.21,361.08 202.14,361.41 214.07,361.74 226,362.07 237.93,362.5 249.87,363.49 261.8,365.02 273.73,366.66 285.66,368.51 297.59,370.15 309.52,371.79 321.45,373.32 331,373.97" fill="none" stroke="#00ff00" stroke-width="1.0" stroke-linejoin="round"/>
<polygon points="35.1,359.95 35.93,361.49 37.57,361.5 36.76,363.05 37.57,364.6 35.93,364.61 35.1,366.15 34.27,364.61 32.63,364.6 33.44,363.05 32.63,361.5 34.27,361.49" fill="#00ff00" fill-opacity="0.35" stroke="#00ff00" stroke-width="1.3"/>
<polygon points="47.03,360.61 47.86,362.15 49.5,362.16 48.69,363.71 49.5,365.26 47.86,365.26 47.03,366.81 46.2,365.26 44.56,365.26 45.38,363.71 44.56,362.16 46.2,362.15" fill="#00ff00" fill-opacity="0.35" stroke="#00ff00" stroke-width="1.3"/>
<polygon points="58.96,360.93 59.79,362.47 61.43,362.48 60.62,364.03 61.43,365.58 59.79,365.59 58.96,367.13 58.13,365.59 56.49,365.58 57.31,364.03 56.49,362.48 58.13,362.47" fill="#00ff00" fill-opacity="0.35" stroke="#00ff00" stroke-width="1.3"/>
<polygon points="70.89,361.04 71.72,362.58 73.36,362.59 72.55,364.14 73.36,365.69 71.72,365.7 70.89,367.24 70.07,365.7 68.42,365.69 69.24,364.14 68.42,362.59 70.07,362.58" fill="#00ff00" fill-opacity="0.35" stroke="#00ff00" stroke-width="1.3"/>
<polygon points="82.83,361.04 83.65,362.58 85.3,362.59 84.48,364.14 85.3,365.69 83.65,365.7 82.83,367.24 82,365.7 80.36,365.69 81.17,364.14 80.36,362.59 82,362.58" fill="#00ff00" fill-opacity="0.35" stroke="#00ff00" stroke-width="1.3"/>
<polygon points="94.76,360.93 95.59,362.47 97.23,362.48 96.41,364.03 97.23,365.58 95.59,365.59 94.76,367.13 93.93,365.59 92.29,365.58 93.1,364.03 92.29,362.48 93.93,362.47" fill="#00ff00" fill-opacity="0.35" stroke="#00ff00" stroke-width="1.3"/>
<polygon points="106.69,360.5 107.52,362.04 109.16,362.05 108.34,363.6 109.16,365.15 107.52,365.16 106.69,366.7 105.86,365.16 104.22,365.15 105.03,363.6 104.22,362.05 105.86,362.04" fill="#00ff00" fill-opacity="0.35" stroke="#00ff00" stroke-width="1.3"/>
<polygon points="118.62,359.84 119.45,361.38 121.09,361.39 120.28,362.94 121.09,364.49 119.45,364.5 118.62,366.04 117.79,364.5 116.15,364.49 116.96,362.94 116.15,361.39 117.79,361.38" fill="#00ff00" fill-opacity="0.35" stroke="#00ff00" stroke-width="1.3"/>
<polygon points="130.55,359.08 131.38,360.62 133.02,360.63 132.21,362.18 133.02,363.73 131.38,363.73 130.55,365.28 129.72,363.73 128.08,363.73 128.9,362.18 128.08,360.63 129.72,360.62" fill="#00ff00" fill-opacity="0.35" stroke="#00ff00" stroke-width="1.3"/>
<polygon points="142.48,358.42 143.31,359.96 144.95,359.97 144.14,361.52 144.95,363.07 143.31,363.08 142.48,364.62 141.66,363.08 140.01,363.07 140.83,361.52 140.01,359.97 141.66,359.96" fill="#00ff00" fill-opacity="0.35" stroke="#00ff00" stroke-width="1.3"/>
<polygon points="154.41,357.98 155.24,359.52 156.88,359.53 156.07,361.08 156.88,362.63 155.24,362.64 154.41,364.18 153.59,362.64 151.94,362.63 152.76,361.08 151.94,359.53 153.59,359.52" fill="#00ff00" fill-opacity="0.35" stroke="#00ff00" stroke-width="1.3"/>
<polygon points="166.35,357.66 167.17,359.2 168.82,359.21 168,360.76 168.82,362.31 167.17,362.31 166.35,363.86 165.52,362.31 163.88,362.31 164.69,360.76 163.88,359.21 165.52,359.2" fill="#00ff00" fill-opacity="0.35" stroke="#00ff00" stroke-width="1.3"/>
<polygon points="178.28,357.66 179.11,359.2 180.75,359.21 179.93,360.76 180.75,362.31 179.11,362.31 178.28,363.86 177.45,362.31 175.81,362.31 176.62,360.76 175.81,359.21 177.45,359.2" fill="#00ff00" fill-opacity="0.35" stroke="#00ff00" stroke-width="1.3"/>
<polygon points="190.21,357.98 191.04,359.52 192.68,359.53 191.86,361.08 192.68,362.63 191.04,362.64 190.21,364.18 189.38,362.64 187.74,362.63 188.55,361.08 187.74,359.53 189.38,359.52" fill="#00ff00" fill-opacity="0.35" stroke="#00ff00" stroke-width="1.3"/>
<polygon points="202.14,358.31 202.97,359.85 204.61,359.86 203.8,361.41 204.61,362.96 202.97,362.97 202.14,364.51 201.31,362.97 199.67,362.96 200.48,361.41 199.67,359.86 201.31,359.85" fill="#00ff00" fill-opacity="0.35" stroke="#00ff00" stroke-width="1.3"/>
<polygon points="214.07,358.64 214.9,360.18 216.54,360.19 215.73,361.74 216.54,363.29 214.9,363.3 214.07,364.84 213.24,363.3 211.6,363.29 212.42,361.74 211.6,360.19 213.24,360.18" fill="#00ff00" fill-opacity="0.35" stroke="#00ff00" stroke-width="1.3"/>
<polygon points="226,358.97 226.83,360.51 228.47,360.52 227.66,362.07 228.47,363.62 226.83,363.63 226,365.17 225.18,363.63 223.53,363.62 224.35,362.07 223.53,360.52 225.18,360.51" fill="#00ff00" fill-opacity="0.35" stroke="#00ff00" stroke-width="1.3"/>
<polygon points="237.93,359.4 238.76,360.94 240.4,360.95 239.59,362.5 240.4,364.05 238.76,364.06 237.93,365.6 237.11,364.06 235.46,364.05 236.28,362.5 235.46,360.95 237.11,360.94" fill="#00ff00" fill-opacity="0.35" stroke="#00ff00" stroke-width="1.3"/>
<polygon points="249.87,360.39 250.69,361.93 252.34,361.94 251.52,363.49 252.34,365.04 250.69,365.05 249.87,366.59 249.04,365.05 247.4,365.04 248.21,363.49 247.4,361.94 249.04,361.93" fill="#00ff00" fill-opacity="0.35" stroke="#00ff00" stroke-width="1.3"/>
<polygon points="261.8,361.92 262.63,363.46 264.27,363.47 263.45,365.02 264.27,366.57 262.63,366.58 261.8,368.12 260.97,366.58 259.33,366.57 260.14,365.02 259.33,363.47 260.97,363.46" fill="#00ff00" fill-opacity="0.35" stroke="#00ff00" stroke-width="1.3"/>
<polygon points="273.73,363.56 274.56,365.1 276.2,365.11 275.39,366.66 276.2,368.21 274.56,368.21 273.73,369.76 272.9,368.21 271.26,368.21 272.07,366.66 271.26,365.11 272.9,365.1" fill="#00ff00" fill-opacity="0.35" stroke="#00ff00" stroke-width="1.3"/>
<polygon points="285.66,365.41 286.49,366.95 288.13,366.96 287.32,368.51 288.13,370.06 286.49,370.07 285.66,371.61 284.83,370.07 283.19,370.06 284,368.51 283.19,366.96 284.83,366.95" fill="#00ff00" fill-opacity="0.35" stroke="#00ff00" stroke-width="1.3"/>
<polygon points="297.59,367.05 298.42,368.59 300.06,368.6 299.25,370.15 300.06,371.7 298.42,371.71 297.59,373.25 296.76,371.71 295.12,371.7 295.94,370.15 295.12,368.6 296.76,368.59" fill="#00ff00" fill-opacity="0.35" stroke="#00ff00" stroke-width="1.3"/>
<polygon points="309.52,368.69 310.35,370.23 311.99,370.24 311.18,371.79 311.99,373.34 310.35,373.35 309.52,374.89 308.7,373.35 307.05,373.34 307.87,371.79 307.05,370.24 308.7,370.23" fill="#00ff00" fill-opacity="0.35" stroke="#00ff00" stroke-width="1.3"/>
<polygon points="321.45,370.22 322.28,371.76 323.92,371.77 323.11,373.32 323.92,374.87 322.28,374.88 321.45,376.42 320.63,374.88 318.98,374.87 319.8,373.32 318.98,371.77 320.63,371.76" fill="#00ff00" fill-opacity="0.35" stroke="#00ff00" stroke-width="1.3"/>
<polyline points="35.1,363.05 47.03,358.35 58.96,352.45 70.89,348.85 82.83,344.7 94.76,340.87 106.69,336.61 118.62,332.68 130.55,328.42 142.48,324.27 154.41,320.33 166.35,316.18 178.28,312.58 190.21,308.42 202.14,304.06 214.07,299.69 226,295.42 237.93,291.71 249.87,287.23 261.8,282.1 273.73,278.16 285.66,273.9 297.59,269.53 309.52,265.49 321.45,261.56 331,257.73" fill="none" stroke="#ff0000" stroke-width="1.0" stroke-linejoin="round"/>
<circle cx="35.1" cy="363.05" r="2.9" fill="none" stroke="#ff0000" stroke-width="1.1"/>
<circle cx="47.03" cy="358.35" r="2.9" fill="none" stroke="#ff0000" stroke-width="1.1"/>
<circle cx="58.96" cy="352.45" r="2.9" fill="none" stroke="#ff0000" stroke-width="1.1"/>
<circle cx="70.89" cy="348.85" r="2.9" fill="none" stroke="#ff0000" stroke-width="1.1"/>
<circle cx="82.83" cy="344.7" r="2.9" fill="none" stroke="#ff0000" stroke-width="1.1"/>
<circle cx="94.76" cy="340.87" r="2.9" fill="none" stroke="#ff0000" stroke-width="1.1"/>
<circle cx="106.69" cy="336.61" r="2.9" fill="none" stroke="#ff0000" stroke-width="1.1"/>
<circle cx="118.62" cy="332.68" r="2.9" fill="none" stroke="#ff0000" stroke-width="1.1"/>
<circle cx="130.55" cy="328.42" r="2.9" fill="none" stroke="#ff0000" stroke-width="1.1"/>
<circle cx="142.48" cy="324.27" r="2.9" fill="none" stroke="#ff0000" stroke-width="1.1"/>
<circle cx="154.41" cy="320.33" r="2.9" fill="none" stroke="#ff0000" stroke-width="1.1"/>
<circle cx="166.35" cy="316.18" r="2.9" fill="none" stroke="#ff0000" stroke-width="1.1"/>
<circle cx="178.28" cy="312.58" r="2.9" fill="none" stroke="#ff0000" stroke-width="1.1"/>
<circle cx="190.21" cy="308.42" r="2.9" fill="none" stroke="#ff0000" stroke-width="1.1"/>
<circle cx="202.14" cy="304.06" r="2.9" fill="none" stroke="#ff0000" stroke-width="1.1"/>
<circle cx="214.07" cy="299.69" r="2.9" fill="none" stroke="#ff0000" stroke-width="1.1"/>
<circle cx="226" cy="295.42" r="2.9" fill="none" stroke="#ff0000" stroke-width="1.1"/>
<circle cx="237.93" cy="291.71" r="2.9" fill="none" stroke="#ff0000" stroke-width="1.1"/>
<circle cx="249.87" cy="287.23" r="2.9" fill="none" stroke="#ff0000" stroke-width="1.1"/>
<circle cx="261.8" cy="282.1" r="2.9" fill="none" stroke="#ff0000" stroke-width="1.1"/>
<circle cx="273.73" cy="278.16" r="2.9" fill="none" stroke="#ff0000" stroke-width="1.1"/>
<circle cx="285.66" cy="273.9" r="2.9" fill="none" stroke="#ff0000" stroke-width="1.1"/>
<circle cx="297.59" cy="269.53" r="2.9" fill="none" stroke="#ff0000" stroke-width="1.1"/>
<circle cx="309.52" cy="265.49" r="2.9" fill="none" stroke="#ff0000" stroke-width="1.1"/>
<circle cx="321.45" cy="261.56" r="2.9" fill="none" stroke="#ff0000" stroke-width="1.1"/>
<polyline points="35.1,363.05 47.03,359.45 58.96,355.87 70.89,352.3 82.83,348.75 94.76,345.21 106.69,341.7 118.62,338.19 130.55,334.71 142.48,331.24 154.41,327.79 166.35,324.35 178.28,320.93 190.21,317.53 202.14,314.14 214.07,310.77 226,307.41 237.93,304.07 249.87,300.75 261.8,297.45 273.73,294.16 285.66,290.88 297.59,287.63 309.52,284.39 321.45,281.16 331,278.59" fill="none" stroke="#ffff00" stroke-width="2.0" stroke-linejoin="round"/>
</g>
<path d="M80.44 384.9v-2.5M80.44 210.1v2.5M128.17 384.9v-2.5M128.17 210.1v2.5M175.89 384.9v-2.5M175.89 210.1v2.5M223.62 384.9v-2.5M223.62 210.1v2.5M271.34 384.9v-2.5M271.34 210.1v2.5M319.07 384.9v-2.5M319.07 210.1v2.5M35.3 384.9h2.5M330.8 384.9h-2.5M35.3 363.05h2.5M330.8 363.05h-2.5M35.3 341.2h2.5M330.8 341.2h-2.5M35.3 319.35h2.5M330.8 319.35h-2.5M35.3 297.5h2.5M330.8 297.5h-2.5M35.3 275.65h2.5M330.8 275.65h-2.5M35.3 253.8h2.5M330.8 253.8h-2.5M35.3 231.95h2.5M330.8 231.95h-2.5M35.3 210.1h2.5M330.8 210.1h-2.5" stroke="#7a7a7a" stroke-width="0.8" fill="none"/>
<text x="80.44" y="393.8" text-anchor="middle" class="tl">20</text>
<text x="128.17" y="393.8" text-anchor="middle" class="tl">40</text>
<text x="175.89" y="393.8" text-anchor="middle" class="tl">60</text>
<text x="223.62" y="393.8" text-anchor="middle" class="tl">80</text>
<text x="271.34" y="393.8" text-anchor="middle" class="tl">100</text>
<text x="319.07" y="393.8" text-anchor="middle" class="tl">120</text>
<text x="31.7" y="387.3" text-anchor="end" class="tl" dx="0.35">-0.02</text>
<text x="31.7" y="365.45" text-anchor="end" class="tl" dx="0.35">0</text>
<text x="31.7" y="343.6" text-anchor="end" class="tl" dx="0.35">0.02</text>
<text x="31.7" y="321.75" text-anchor="end" class="tl" dx="0.35">0.04</text>
<text x="31.7" y="299.9" text-anchor="end" class="tl" dx="0.35">0.06</text>
<text x="31.7" y="278.05" text-anchor="end" class="tl" dx="0.35">0.08</text>
<text x="31.7" y="256.2" text-anchor="end" class="tl" dx="0.35">0.1</text>
<text x="31.7" y="234.35" text-anchor="end" class="tl" dx="0.35">0.12</text>
<text x="31.7" y="212.5" text-anchor="end" class="tl" dx="0.35">0.14</text>
<text x="183.05" y="406.1" text-anchor="middle" class="xl" textLength="25" lengthAdjust="spacingAndGlyphs">Time</text>
<text transform="translate(11.7,298.3) rotate(-90)" x="0" y="0" text-anchor="middle" class="yl" textLength="73" lengthAdjust="spacingAndGlyphs">Rate of return</text>
<text x="75.6" y="272.6" class="mt" textLength="40.2" lengthAdjust="spacingAndGlyphs">m=20</text>
<g>
<rect x="387.9" y="209.1" width="295.5" height="175.9" fill="none" stroke="#7a7a7a" stroke-width="1"/>
<polyline points="387.7,359.87 399.62,352.84 411.55,345.8 423.47,339.14 435.39,332.86 447.32,326.7 459.24,319.67 471.16,313.89 483.09,306.98 495.01,301.45 506.93,295.54 518.86,288.88 530.78,283.98 542.7,278.33 554.63,272.05 566.55,266.14 578.47,260.11 590.4,254.96 602.32,249.81 614.24,243.78 626.17,238.25 638.09,233.35 650.01,228.83 661.94,223.8 673.86,218.9 683.4,214.88" fill="none" stroke="#0000ff" stroke-width="1.0" stroke-linejoin="round"/>
<rect x="385.2" y="357.37" width="5" height="5" fill="none" stroke="#0000ff" stroke-width="1"/>
<rect x="397.12" y="350.34" width="5" height="5" fill="none" stroke="#0000ff" stroke-width="1"/>
<rect x="409.05" y="343.3" width="5" height="5" fill="none" stroke="#0000ff" stroke-width="1"/>
<rect x="420.97" y="336.64" width="5" height="5" fill="none" stroke="#0000ff" stroke-width="1"/>
<rect x="432.89" y="330.36" width="5" height="5" fill="none" stroke="#0000ff" stroke-width="1"/>
<rect x="444.82" y="324.2" width="5" height="5" fill="none" stroke="#0000ff" stroke-width="1"/>
<rect x="456.74" y="317.17" width="5" height="5" fill="none" stroke="#0000ff" stroke-width="1"/>
<rect x="468.66" y="311.39" width="5" height="5" fill="none" stroke="#0000ff" stroke-width="1"/>
<rect x="480.59" y="304.48" width="5" height="5" fill="none" stroke="#0000ff" stroke-width="1"/>
<rect x="492.51" y="298.95" width="5" height="5" fill="none" stroke="#0000ff" stroke-width="1"/>
<rect x="504.43" y="293.04" width="5" height="5" fill="none" stroke="#0000ff" stroke-width="1"/>
<rect x="516.36" y="286.38" width="5" height="5" fill="none" stroke="#0000ff" stroke-width="1"/>
<rect x="528.28" y="281.48" width="5" height="5" fill="none" stroke="#0000ff" stroke-width="1"/>
<rect x="540.2" y="275.83" width="5" height="5" fill="none" stroke="#0000ff" stroke-width="1"/>
<rect x="552.13" y="269.55" width="5" height="5" fill="none" stroke="#0000ff" stroke-width="1"/>
<rect x="564.05" y="263.64" width="5" height="5" fill="none" stroke="#0000ff" stroke-width="1"/>
<rect x="575.97" y="257.61" width="5" height="5" fill="none" stroke="#0000ff" stroke-width="1"/>
<rect x="587.9" y="252.46" width="5" height="5" fill="none" stroke="#0000ff" stroke-width="1"/>
<rect x="599.82" y="247.31" width="5" height="5" fill="none" stroke="#0000ff" stroke-width="1"/>
<rect x="611.74" y="241.28" width="5" height="5" fill="none" stroke="#0000ff" stroke-width="1"/>
<rect x="623.67" y="235.75" width="5" height="5" fill="none" stroke="#0000ff" stroke-width="1"/>
<rect x="635.59" y="230.85" width="5" height="5" fill="none" stroke="#0000ff" stroke-width="1"/>
<rect x="647.51" y="226.33" width="5" height="5" fill="none" stroke="#0000ff" stroke-width="1"/>
<rect x="659.44" y="221.3" width="5" height="5" fill="none" stroke="#0000ff" stroke-width="1"/>
<rect x="671.36" y="216.4" width="5" height="5" fill="none" stroke="#0000ff" stroke-width="1"/>
<polyline points="387.7,359.87 399.62,355.73 411.55,349.19 423.47,343.54 435.39,339.77 447.32,334.74 459.24,330.47 471.16,326.07 483.09,321.22 495.01,316.99 506.93,312.5 518.86,308.48 530.78,304.34 542.7,299.69 554.63,294.66 566.55,289.51 578.47,284.49 590.4,278.45 602.32,272.17 614.24,267.27 626.17,264.26 638.09,259.36 650.01,254.96 661.94,250.56 673.86,246.04 683.4,242.77" fill="none" stroke="#ff00ff" stroke-width="1.0" stroke-linejoin="round"/>
<path d="M387.7 355.67L390.7 359.87L387.7 364.07L384.7 359.87Z" fill="none" stroke="#ff00ff" stroke-width="1"/>
<path d="M399.62 351.53L402.62 355.73L399.62 359.93L396.62 355.73Z" fill="none" stroke="#ff00ff" stroke-width="1"/>
<path d="M411.55 344.99L414.55 349.19L411.55 353.39L408.55 349.19Z" fill="none" stroke="#ff00ff" stroke-width="1"/>
<path d="M423.47 339.34L426.47 343.54L423.47 347.74L420.47 343.54Z" fill="none" stroke="#ff00ff" stroke-width="1"/>
<path d="M435.39 335.57L438.39 339.77L435.39 343.97L432.39 339.77Z" fill="none" stroke="#ff00ff" stroke-width="1"/>
<path d="M447.32 330.54L450.32 334.74L447.32 338.94L444.32 334.74Z" fill="none" stroke="#ff00ff" stroke-width="1"/>
<path d="M459.24 326.27L462.24 330.47L459.24 334.67L456.24 330.47Z" fill="none" stroke="#ff00ff" stroke-width="1"/>
<path d="M471.16 321.87L474.16 326.07L471.16 330.27L468.16 326.07Z" fill="none" stroke="#ff00ff" stroke-width="1"/>
<path d="M483.09 317.02L486.09 321.22L483.09 325.42L480.09 321.22Z" fill="none" stroke="#ff00ff" stroke-width="1"/>
<path d="M495.01 312.79L498.01 316.99L495.01 321.19L492.01 316.99Z" fill="none" stroke="#ff00ff" stroke-width="1"/>
<path d="M506.93 308.3L509.93 312.5L506.93 316.7L503.93 312.5Z" fill="none" stroke="#ff00ff" stroke-width="1"/>
<path d="M518.86 304.28L521.86 308.48L518.86 312.68L515.86 308.48Z" fill="none" stroke="#ff00ff" stroke-width="1"/>
<path d="M530.78 300.14L533.78 304.34L530.78 308.54L527.78 304.34Z" fill="none" stroke="#ff00ff" stroke-width="1"/>
<path d="M542.7 295.49L545.7 299.69L542.7 303.89L539.7 299.69Z" fill="none" stroke="#ff00ff" stroke-width="1"/>
<path d="M554.63 290.46L557.63 294.66L554.63 298.86L551.63 294.66Z" fill="none" stroke="#ff00ff" stroke-width="1"/>
<path d="M566.55 285.31L569.55 289.51L566.55 293.71L563.55 289.51Z" fill="none" stroke="#ff00ff" stroke-width="1"/>
<path d="M578.47 280.29L581.47 284.49L578.47 288.69L575.47 284.49Z" fill="none" stroke="#ff00ff" stroke-width="1"/>
<path d="M590.4 274.25L593.4 278.45L590.4 282.65L587.4 278.45Z" fill="none" stroke="#ff00ff" stroke-width="1"/>
<path d="M602.32 267.97L605.32 272.17L602.32 276.37L599.32 272.17Z" fill="none" stroke="#ff00ff" stroke-width="1"/>
<path d="M614.24 263.07L617.24 267.27L614.24 271.47L611.24 267.27Z" fill="none" stroke="#ff00ff" stroke-width="1"/>
<path d="M626.17 260.06L629.17 264.26L626.17 268.46L623.17 264.26Z" fill="none" stroke="#ff00ff" stroke-width="1"/>
<path d="M638.09 255.16L641.09 259.36L638.09 263.56L635.09 259.36Z" fill="none" stroke="#ff00ff" stroke-width="1"/>
<path d="M650.01 250.76L653.01 254.96L650.01 259.16L647.01 254.96Z" fill="none" stroke="#ff00ff" stroke-width="1"/>
<path d="M661.94 246.36L664.94 250.56L661.94 254.76L658.94 250.56Z" fill="none" stroke="#ff00ff" stroke-width="1"/>
<path d="M673.86 241.84L676.86 246.04L673.86 250.24L670.86 246.04Z" fill="none" stroke="#ff00ff" stroke-width="1"/>
<polyline points="387.7,359.87 399.62,358.36 411.55,357.23 423.47,356.23 435.39,353.97 447.32,351.83 459.24,350.32 471.16,347.94 483.09,345.8 495.01,344.04 506.93,342.28 518.86,340.77 530.78,339.14 542.7,338.01 554.63,336.5 566.55,334.87 578.47,333.86 590.4,332.73 602.32,332.1 614.24,331.35 626.17,331.35 638.09,331.35 650.01,330.97 661.94,330.47 673.86,330.09 683.4,329.47" fill="none" stroke="#00ffff" stroke-width="1.0" stroke-linejoin="round"/>
<polygon points="387.7,356.17 388.55,358.58 390.87,358.73 389.07,360.37 389.66,362.86 387.7,361.47 385.74,362.86 386.33,360.37 384.53,358.73 386.85,358.58" fill="#00ffff" fill-opacity="0.45" stroke="#00ffff" stroke-width="1.1" stroke-linejoin="round"/>
<polygon points="399.62,354.66 400.47,357.07 402.79,357.22 400.99,358.86 401.58,361.36 399.62,359.96 397.67,361.36 398.25,358.86 396.46,357.22 398.78,357.07" fill="#00ffff" fill-opacity="0.45" stroke="#00ffff" stroke-width="1.1" stroke-linejoin="round"/>
<polygon points="411.55,353.53 412.39,355.94 414.71,356.09 412.92,357.73 413.5,360.23 411.55,358.83 409.59,360.23 410.18,357.73 408.38,356.09 410.7,355.94" fill="#00ffff" fill-opacity="0.45" stroke="#00ffff" stroke-width="1.1" stroke-linejoin="round"/>
<polygon points="423.47,352.53 424.32,354.93 426.64,355.08 424.84,356.72 425.43,359.22 423.47,357.83 421.51,359.22 422.1,356.72 420.3,355.08 422.62,354.93" fill="#00ffff" fill-opacity="0.45" stroke="#00ffff" stroke-width="1.1" stroke-linejoin="round"/>
<polygon points="435.39,350.27 436.24,352.67 438.56,352.82 436.76,354.46 437.35,356.96 435.39,355.57 433.44,356.96 434.02,354.46 432.23,352.82 434.55,352.67" fill="#00ffff" fill-opacity="0.45" stroke="#00ffff" stroke-width="1.1" stroke-linejoin="round"/>
<polygon points="447.32,348.13 448.16,350.54 450.48,350.69 448.69,352.32 449.27,354.82 447.32,353.43 445.36,354.82 445.95,352.32 444.15,350.69 446.47,350.54" fill="#00ffff" fill-opacity="0.45" stroke="#00ffff" stroke-width="1.1" stroke-linejoin="round"/>
<polygon points="459.24,346.62 460.09,349.03 462.41,349.18 460.61,350.82 461.2,353.32 459.24,351.92 457.28,353.32 457.87,350.82 456.07,349.18 458.39,349.03" fill="#00ffff" fill-opacity="0.45" stroke="#00ffff" stroke-width="1.1" stroke-linejoin="round"/>
<polygon points="471.16,344.24 472.01,346.64 474.33,346.79 472.53,348.43 473.12,350.93 471.16,349.54 469.21,350.93 469.79,348.43 468,346.79 470.32,346.64" fill="#00ffff" fill-opacity="0.45" stroke="#00ffff" stroke-width="1.1" stroke-linejoin="round"/>
<polygon points="483.09,342.1 483.93,344.51 486.25,344.66 484.46,346.29 485.04,348.79 483.09,347.4 481.13,348.79 481.72,346.29 479.92,344.66 482.24,344.51" fill="#00ffff" fill-opacity="0.45" stroke="#00ffff" stroke-width="1.1" stroke-linejoin="round"/>
<polygon points="495.01,340.34 495.86,342.75 498.18,342.9 496.38,344.53 496.97,347.03 495.01,345.64 493.05,347.03 493.64,344.53 491.84,342.9 494.16,342.75" fill="#00ffff" fill-opacity="0.45" stroke="#00ffff" stroke-width="1.1" stroke-linejoin="round"/>
<polygon points="506.93,338.58 507.78,340.99 510.1,341.14 508.3,342.78 508.89,345.27 506.93,343.88 504.98,345.27 505.56,342.78 503.77,341.14 506.09,340.99" fill="#00ffff" fill-opacity="0.45" stroke="#00ffff" stroke-width="1.1" stroke-linejoin="round"/>
<polygon points="518.86,337.07 519.7,339.48 522.02,339.63 520.23,341.27 520.81,343.77 518.86,342.37 516.9,343.77 517.49,341.27 515.69,339.63 518.01,339.48" fill="#00ffff" fill-opacity="0.45" stroke="#00ffff" stroke-width="1.1" stroke-linejoin="round"/>
<polygon points="530.78,335.44 531.63,337.85 533.95,338 532.15,339.63 532.74,342.13 530.78,340.74 528.82,342.13 529.41,339.63 527.61,338 529.93,337.85" fill="#00ffff" fill-opacity="0.45" stroke="#00ffff" stroke-width="1.1" stroke-linejoin="round"/>
<polygon points="542.7,334.31 543.55,336.72 545.87,336.87 544.07,338.5 544.66,341 542.7,339.61 540.75,341 541.33,338.5 539.54,336.87 541.86,336.72" fill="#00ffff" fill-opacity="0.45" stroke="#00ffff" stroke-width="1.1" stroke-linejoin="round"/>
<polygon points="554.63,332.8 555.47,335.21 557.79,335.36 556,337 556.58,339.5 554.63,338.1 552.67,339.5 553.26,337 551.46,335.36 553.78,335.21" fill="#00ffff" fill-opacity="0.45" stroke="#00ffff" stroke-width="1.1" stroke-linejoin="round"/>
<polygon points="566.55,331.17 567.4,333.57 569.72,333.73 567.92,335.36 568.51,337.86 566.55,336.47 564.59,337.86 565.18,335.36 563.38,333.73 565.7,333.57" fill="#00ffff" fill-opacity="0.45" stroke="#00ffff" stroke-width="1.1" stroke-linejoin="round"/>
<polygon points="578.47,330.16 579.32,332.57 581.64,332.72 579.84,334.36 580.43,336.86 578.47,335.46 576.52,336.86 577.1,334.36 575.31,332.72 577.63,332.57" fill="#00ffff" fill-opacity="0.45" stroke="#00ffff" stroke-width="1.1" stroke-linejoin="round"/>
<polygon points="590.4,329.03 591.24,331.44 593.56,331.59 591.77,333.23 592.35,335.73 590.4,334.33 588.44,335.73 589.03,333.23 587.23,331.59 589.55,331.44" fill="#00ffff" fill-opacity="0.45" stroke="#00ffff" stroke-width="1.1" stroke-linejoin="round"/>
<polygon points="602.32,328.4 603.17,330.81 605.49,330.96 603.69,332.6 604.28,335.1 602.32,333.7 600.36,335.1 600.95,332.6 599.15,330.96 601.47,330.81" fill="#00ffff" fill-opacity="0.45" stroke="#00ffff" stroke-width="1.1" stroke-linejoin="round"/>
<polygon points="614.24,327.65 615.09,330.06 617.41,330.21 615.61,331.84 616.2,334.34 614.24,332.95 612.29,334.34 612.87,331.84 611.08,330.21 613.4,330.06" fill="#00ffff" fill-opacity="0.45" stroke="#00ffff" stroke-width="1.1" stroke-linejoin="round"/>
<polygon points="626.17,327.65 627.01,330.06 629.33,330.21 627.54,331.84 628.13,334.34 626.17,332.95 624.21,334.34 624.8,331.84 623,330.21 625.32,330.06" fill="#00ffff" fill-opacity="0.45" stroke="#00ffff" stroke-width="1.1" stroke-linejoin="round"/>
<polygon points="638.09,327.65 638.94,330.06 641.26,330.21 639.46,331.84 640.05,334.34 638.09,332.95 636.13,334.34 636.72,331.84 634.92,330.21 637.24,330.06" fill="#00ffff" fill-opacity="0.45" stroke="#00ffff" stroke-width="1.1" stroke-linejoin="round"/>
<polygon points="650.01,327.27 650.86,329.68 653.18,329.83 651.38,331.47 651.97,333.97 650.01,332.57 648.06,333.97 648.64,331.47 646.85,329.83 649.17,329.68" fill="#00ffff" fill-opacity="0.45" stroke="#00ffff" stroke-width="1.1" stroke-linejoin="round"/>
<polygon points="661.94,326.77 662.78,329.18 665.1,329.33 663.31,330.97 663.9,333.46 661.94,332.07 659.98,333.46 660.57,330.97 658.77,329.33 661.09,329.18" fill="#00ffff" fill-opacity="0.45" stroke="#00ffff" stroke-width="1.1" stroke-linejoin="round"/>
<polygon points="673.86,326.39 674.71,328.8 677.03,328.95 675.23,330.59 675.82,333.09 673.86,331.69 671.9,333.09 672.49,330.59 670.69,328.95 673.01,328.8" fill="#00ffff" fill-opacity="0.45" stroke="#00ffff" stroke-width="1.1" stroke-linejoin="round"/>
<polyline points="387.7,359.87 399.62,360.63 411.55,361 423.47,361.13 435.39,361.13 447.32,361 459.24,360.5 471.16,359.75 483.09,358.87 495.01,358.11 506.93,357.61 518.86,357.23 530.78,357.23 542.7,357.61 554.63,357.99 566.55,358.36 578.47,358.74 590.4,359.24 602.32,360.37 614.24,362.13 626.17,364.02 638.09,366.15 650.01,368.04 661.94,369.92 673.86,371.68 683.4,372.44" fill="none" stroke="#00ff00" stroke-width="1.0" stroke-linejoin="round"/>
<polygon points="387.7,356.77 388.53,358.31 390.17,358.32 389.36,359.87 390.17,361.42 388.53,361.43 387.7,362.97 386.87,361.43 385.23,361.42 386.04,359.87 385.23,358.32 386.87,358.31" fill="#00ff00" fill-opacity="0.35" stroke="#00ff00" stroke-width="1.3"/>
<polygon points="399.62,357.53 400.45,359.07 402.09,359.08 401.28,360.63 402.09,362.18 400.45,362.18 399.62,363.73 398.8,362.18 397.15,362.18 397.97,360.63 397.15,359.08 398.8,359.07" fill="#00ff00" fill-opacity="0.35" stroke="#00ff00" stroke-width="1.3"/>
<polygon points="411.55,357.9 412.37,359.44 414.02,359.45 413.2,361 414.02,362.55 412.37,362.56 411.55,364.1 410.72,362.56 409.08,362.55 409.89,361 409.08,359.45 410.72,359.44" fill="#00ff00" fill-opacity="0.35" stroke="#00ff00" stroke-width="1.3"/>
<polygon points="423.47,358.03 424.3,359.57 425.94,359.58 425.13,361.13 425.94,362.68 424.3,362.69 423.47,364.23 422.64,362.69 421,362.68 421.81,361.13 421,359.58 422.64,359.57" fill="#00ff00" fill-opacity="0.35" stroke="#00ff00" stroke-width="1.3"/>
<polygon points="435.39,358.03 436.22,359.57 437.86,359.58 437.05,361.13 437.86,362.68 436.22,362.69 435.39,364.23 434.57,362.69 432.92,362.68 433.74,361.13 432.92,359.58 434.57,359.57" fill="#00ff00" fill-opacity="0.35" stroke="#00ff00" stroke-width="1.3"/>
<polygon points="447.32,357.9 448.14,359.44 449.79,359.45 448.97,361 449.79,362.55 448.14,362.56 447.32,364.1 446.49,362.56 444.85,362.55 445.66,361 444.85,359.45 446.49,359.44" fill="#00ff00" fill-opacity="0.35" stroke="#00ff00" stroke-width="1.3"/>
<polygon points="459.24,357.4 460.07,358.94 461.71,358.95 460.9,360.5 461.71,362.05 460.07,362.06 459.24,363.6 458.41,362.06 456.77,362.05 457.58,360.5 456.77,358.95 458.41,358.94" fill="#00ff00" fill-opacity="0.35" stroke="#00ff00" stroke-width="1.3"/>
<polygon points="471.16,356.65 471.99,358.19 473.63,358.2 472.82,359.75 473.63,361.3 471.99,361.3 471.16,362.85 470.34,361.3 468.69,361.3 469.51,359.75 468.69,358.2 470.34,358.19" fill="#00ff00" fill-opacity="0.35" stroke="#00ff00" stroke-width="1.3"/>
<polygon points="483.09,355.77 483.92,357.31 485.56,357.32 484.74,358.87 485.56,360.42 483.92,360.43 483.09,361.97 482.26,360.43 480.62,360.42 481.43,358.87 480.62,357.32 482.26,357.31" fill="#00ff00" fill-opacity="0.35" stroke="#00ff00" stroke-width="1.3"/>
<polygon points="495.01,355.01 495.84,356.55 497.48,356.56 496.67,358.11 497.48,359.66 495.84,359.67 495.01,361.21 494.18,359.67 492.54,359.66 493.35,358.11 492.54,356.56 494.18,356.55" fill="#00ff00" fill-opacity="0.35" stroke="#00ff00" stroke-width="1.3"/>
<polygon points="506.93,354.51 507.76,356.05 509.4,356.06 508.59,357.61 509.4,359.16 507.76,359.17 506.93,360.71 506.11,359.17 504.46,359.16 505.28,357.61 504.46,356.06 506.11,356.05" fill="#00ff00" fill-opacity="0.35" stroke="#00ff00" stroke-width="1.3"/>
<polygon points="518.86,354.13 519.69,355.67 521.33,355.68 520.51,357.23 521.33,358.78 519.69,358.79 518.86,360.33 518.03,358.79 516.39,358.78 517.2,357.23 516.39,355.68 518.03,355.67" fill="#00ff00" fill-opacity="0.35" stroke="#00ff00" stroke-width="1.3"/>
<polygon points="530.78,354.13 531.61,355.67 533.25,355.68 532.44,357.23 533.25,358.78 531.61,358.79 530.78,360.33 529.95,358.79 528.31,358.78 529.12,357.23 528.31,355.68 529.95,355.67" fill="#00ff00" fill-opacity="0.35" stroke="#00ff00" stroke-width="1.3"/>
<polygon points="542.7,354.51 543.53,356.05 545.17,356.06 544.36,357.61 545.17,359.16 543.53,359.17 542.7,360.71 541.88,359.17 540.23,359.16 541.05,357.61 540.23,356.06 541.88,356.05" fill="#00ff00" fill-opacity="0.35" stroke="#00ff00" stroke-width="1.3"/>
<polygon points="554.63,354.89 555.46,356.43 557.1,356.44 556.28,357.99 557.1,359.54 555.46,359.55 554.63,361.09 553.8,359.55 552.16,359.54 552.97,357.99 552.16,356.44 553.8,356.43" fill="#00ff00" fill-opacity="0.35" stroke="#00ff00" stroke-width="1.3"/>
<polygon points="566.55,355.26 567.38,356.8 569.02,356.81 568.21,358.36 569.02,359.91 567.38,359.92 566.55,361.46 565.72,359.92 564.08,359.91 564.89,358.36 564.08,356.81 565.72,356.8" fill="#00ff00" fill-opacity="0.35" stroke="#00ff00" stroke-width="1.3"/>
<polygon points="578.47,355.64 579.3,357.18 580.94,357.19 580.13,358.74 580.94,360.29 579.3,360.3 578.47,361.84 577.65,360.3 576,360.29 576.82,358.74 576,357.19 577.65,357.18" fill="#00ff00" fill-opacity="0.35" stroke="#00ff00" stroke-width="1.3"/>
<polygon points="590.4,356.14 591.23,357.68 592.87,357.69 592.05,359.24 592.87,360.79 591.23,360.8 590.4,362.34 589.57,360.8 587.93,360.79 588.74,359.24 587.93,357.69 589.57,357.68" fill="#00ff00" fill-opacity="0.35" stroke="#00ff00" stroke-width="1.3"/>
<polygon points="602.32,357.27 603.15,358.82 604.79,358.82 603.98,360.37 604.79,361.92 603.15,361.93 602.32,363.47 601.49,361.93 599.85,361.92 600.66,360.37 599.85,358.82 601.49,358.82" fill="#00ff00" fill-opacity="0.35" stroke="#00ff00" stroke-width="1.3"/>
<polygon points="614.24,359.03 615.07,360.57 616.71,360.58 615.9,362.13 616.71,363.68 615.07,363.69 614.24,365.23 613.42,363.69 611.77,363.68 612.59,362.13 611.77,360.58 613.42,360.57" fill="#00ff00" fill-opacity="0.35" stroke="#00ff00" stroke-width="1.3"/>
<polygon points="626.17,360.92 627,362.46 628.64,362.47 627.82,364.02 628.64,365.57 627,365.58 626.17,367.12 625.34,365.58 623.7,365.57 624.51,364.02 623.7,362.47 625.34,362.46" fill="#00ff00" fill-opacity="0.35" stroke="#00ff00" stroke-width="1.3"/>
<polygon points="638.09,363.05 638.92,364.59 640.56,364.6 639.75,366.15 640.56,367.7 638.92,367.71 638.09,369.25 637.26,367.71 635.62,367.7 636.44,366.15 635.62,364.6 637.26,364.59" fill="#00ff00" fill-opacity="0.35" stroke="#00ff00" stroke-width="1.3"/>
<polygon points="650.01,364.94 650.84,366.48 652.48,366.49 651.67,368.04 652.48,369.59 650.84,369.6 650.01,371.14 649.19,369.6 647.54,369.59 648.36,368.04 647.54,366.49 649.19,366.48" fill="#00ff00" fill-opacity="0.35" stroke="#00ff00" stroke-width="1.3"/>
<polygon points="661.94,366.82 662.77,368.36 664.41,368.37 663.59,369.92 664.41,371.47 662.77,371.48 661.94,373.02 661.11,371.48 659.47,371.47 660.28,369.92 659.47,368.37 661.11,368.36" fill="#00ff00" fill-opacity="0.35" stroke="#00ff00" stroke-width="1.3"/>
<polygon points="673.86,368.58 674.69,370.12 676.33,370.13 675.52,371.68 676.33,373.23 674.69,373.24 673.86,374.78 673.03,373.24 671.39,373.23 672.21,371.68 671.39,370.13 673.03,370.12" fill="#00ff00" fill-opacity="0.35" stroke="#00ff00" stroke-width="1.3"/>
<polyline points="387.7,359.87 399.62,355.1 411.55,348.56 423.47,343.54 435.39,339.77 447.32,334.74 459.24,330.47 471.16,326.07 483.09,322.05 495.01,318.66 506.93,315.02 518.86,311 530.78,306.85 542.7,302.2 554.63,297.18 566.55,292.02 578.47,287 590.4,280.97 602.32,274.69 614.24,268.53 626.17,264.26 638.09,259.36 650.01,254.96 661.94,250.56 673.86,246.04 683.4,242.77" fill="none" stroke="#ff0000" stroke-width="1.0" stroke-linejoin="round"/>
<circle cx="387.7" cy="359.87" r="3.2" fill="none" stroke="#ff0000" stroke-width="1.1"/>
<circle cx="399.62" cy="355.1" r="3.2" fill="none" stroke="#ff0000" stroke-width="1.1"/>
<circle cx="411.55" cy="348.56" r="3.2" fill="none" stroke="#ff0000" stroke-width="1.1"/>
<circle cx="423.47" cy="343.54" r="3.2" fill="none" stroke="#ff0000" stroke-width="1.1"/>
<circle cx="435.39" cy="339.77" r="3.2" fill="none" stroke="#ff0000" stroke-width="1.1"/>
<circle cx="447.32" cy="334.74" r="3.2" fill="none" stroke="#ff0000" stroke-width="1.1"/>
<circle cx="459.24" cy="330.47" r="3.2" fill="none" stroke="#ff0000" stroke-width="1.1"/>
<circle cx="471.16" cy="326.07" r="3.2" fill="none" stroke="#ff0000" stroke-width="1.1"/>
<circle cx="483.09" cy="322.05" r="3.2" fill="none" stroke="#ff0000" stroke-width="1.1"/>
<circle cx="495.01" cy="318.66" r="3.2" fill="none" stroke="#ff0000" stroke-width="1.1"/>
<circle cx="506.93" cy="315.02" r="3.2" fill="none" stroke="#ff0000" stroke-width="1.1"/>
<circle cx="518.86" cy="311" r="3.2" fill="none" stroke="#ff0000" stroke-width="1.1"/>
<circle cx="530.78" cy="306.85" r="3.2" fill="none" stroke="#ff0000" stroke-width="1.1"/>
<circle cx="542.7" cy="302.2" r="3.2" fill="none" stroke="#ff0000" stroke-width="1.1"/>
<circle cx="554.63" cy="297.18" r="3.2" fill="none" stroke="#ff0000" stroke-width="1.1"/>
<circle cx="566.55" cy="292.02" r="3.2" fill="none" stroke="#ff0000" stroke-width="1.1"/>
<circle cx="578.47" cy="287" r="3.2" fill="none" stroke="#ff0000" stroke-width="1.1"/>
<circle cx="590.4" cy="280.97" r="3.2" fill="none" stroke="#ff0000" stroke-width="1.1"/>
<circle cx="602.32" cy="274.69" r="3.2" fill="none" stroke="#ff0000" stroke-width="1.1"/>
<circle cx="614.24" cy="268.53" r="3.2" fill="none" stroke="#ff0000" stroke-width="1.1"/>
<circle cx="626.17" cy="264.26" r="3.2" fill="none" stroke="#ff0000" stroke-width="1.1"/>
<circle cx="638.09" cy="259.36" r="3.2" fill="none" stroke="#ff0000" stroke-width="1.1"/>
<circle cx="650.01" cy="254.96" r="3.2" fill="none" stroke="#ff0000" stroke-width="1.1"/>
<circle cx="661.94" cy="250.56" r="3.2" fill="none" stroke="#ff0000" stroke-width="1.1"/>
<circle cx="673.86" cy="246.04" r="3.2" fill="none" stroke="#ff0000" stroke-width="1.1"/>
<polyline points="387.7,360.37 399.62,356.23 411.55,352.11 423.47,348.01 435.39,343.93 447.32,339.86 459.24,335.82 471.16,331.79 483.09,327.78 495.01,323.79 506.93,319.82 518.86,315.87 530.78,311.93 542.7,308.02 554.63,304.12 566.55,300.25 578.47,296.39 590.4,292.55 602.32,288.73 614.24,284.93 626.17,281.14 638.09,277.38 650.01,273.63 661.94,269.91 673.86,266.2 683.4,263.25" fill="none" stroke="#ffff00" stroke-width="1.7" stroke-linejoin="round"/>
</g>
<path d="M433.01 385v-2.5M433.01 209.1v2.5M480.7 385v-2.5M480.7 209.1v2.5M528.4 385v-2.5M528.4 209.1v2.5M576.09 385v-2.5M576.09 209.1v2.5M623.78 385v-2.5M623.78 209.1v2.5M671.48 385v-2.5M671.48 209.1v2.5M387.9 385h2.5M683.4 385h-2.5M387.9 359.87h2.5M683.4 359.87h-2.5M387.9 334.74h2.5M683.4 334.74h-2.5M387.9 309.61h2.5M683.4 309.61h-2.5M387.9 284.49h2.5M683.4 284.49h-2.5M387.9 259.36h2.5M683.4 259.36h-2.5M387.9 234.23h2.5M683.4 234.23h-2.5M387.9 209.1h2.5M683.4 209.1h-2.5" stroke="#7a7a7a" stroke-width="0.8" fill="none"/>
<text x="433.01" y="393.9" text-anchor="middle" class="tl">20</text>
<text x="480.7" y="393.9" text-anchor="middle" class="tl">40</text>
<text x="528.4" y="393.9" text-anchor="middle" class="tl">60</text>
<text x="576.09" y="393.9" text-anchor="middle" class="tl">80</text>
<text x="623.78" y="393.9" text-anchor="middle" class="tl">100</text>
<text x="671.48" y="393.9" text-anchor="middle" class="tl">120</text>
<text x="384.3" y="387.4" text-anchor="end" class="tl" dx="0.35">-0.02</text>
<text x="384.3" y="362.27" text-anchor="end" class="tl" dx="0.35">0</text>
<text x="384.3" y="337.14" text-anchor="end" class="tl" dx="0.35">0.02</text>
<text x="384.3" y="312.01" text-anchor="end" class="tl" dx="0.35">0.04</text>
<text x="384.3" y="286.89" text-anchor="end" class="tl" dx="0.35">0.06</text>
<text x="384.3" y="261.76" text-anchor="end" class="tl" dx="0.35">0.08</text>
<text x="384.3" y="236.63" text-anchor="end" class="tl" dx="0.35">0.1</text>
<text x="384.3" y="211.5" text-anchor="end" class="tl" dx="0.35">0.12</text>
<text x="535.65" y="406.2" text-anchor="middle" class="xl" textLength="25" lengthAdjust="spacingAndGlyphs">Time</text>
<text transform="translate(364.3,297.85) rotate(-90)" x="0" y="0" text-anchor="middle" class="yl" textLength="73" lengthAdjust="spacingAndGlyphs">Rate of return</text>
<text x="424" y="262.4" class="mt" textLength="40.2" lengthAdjust="spacingAndGlyphs">m=30</text>
</svg>
</body></html>
